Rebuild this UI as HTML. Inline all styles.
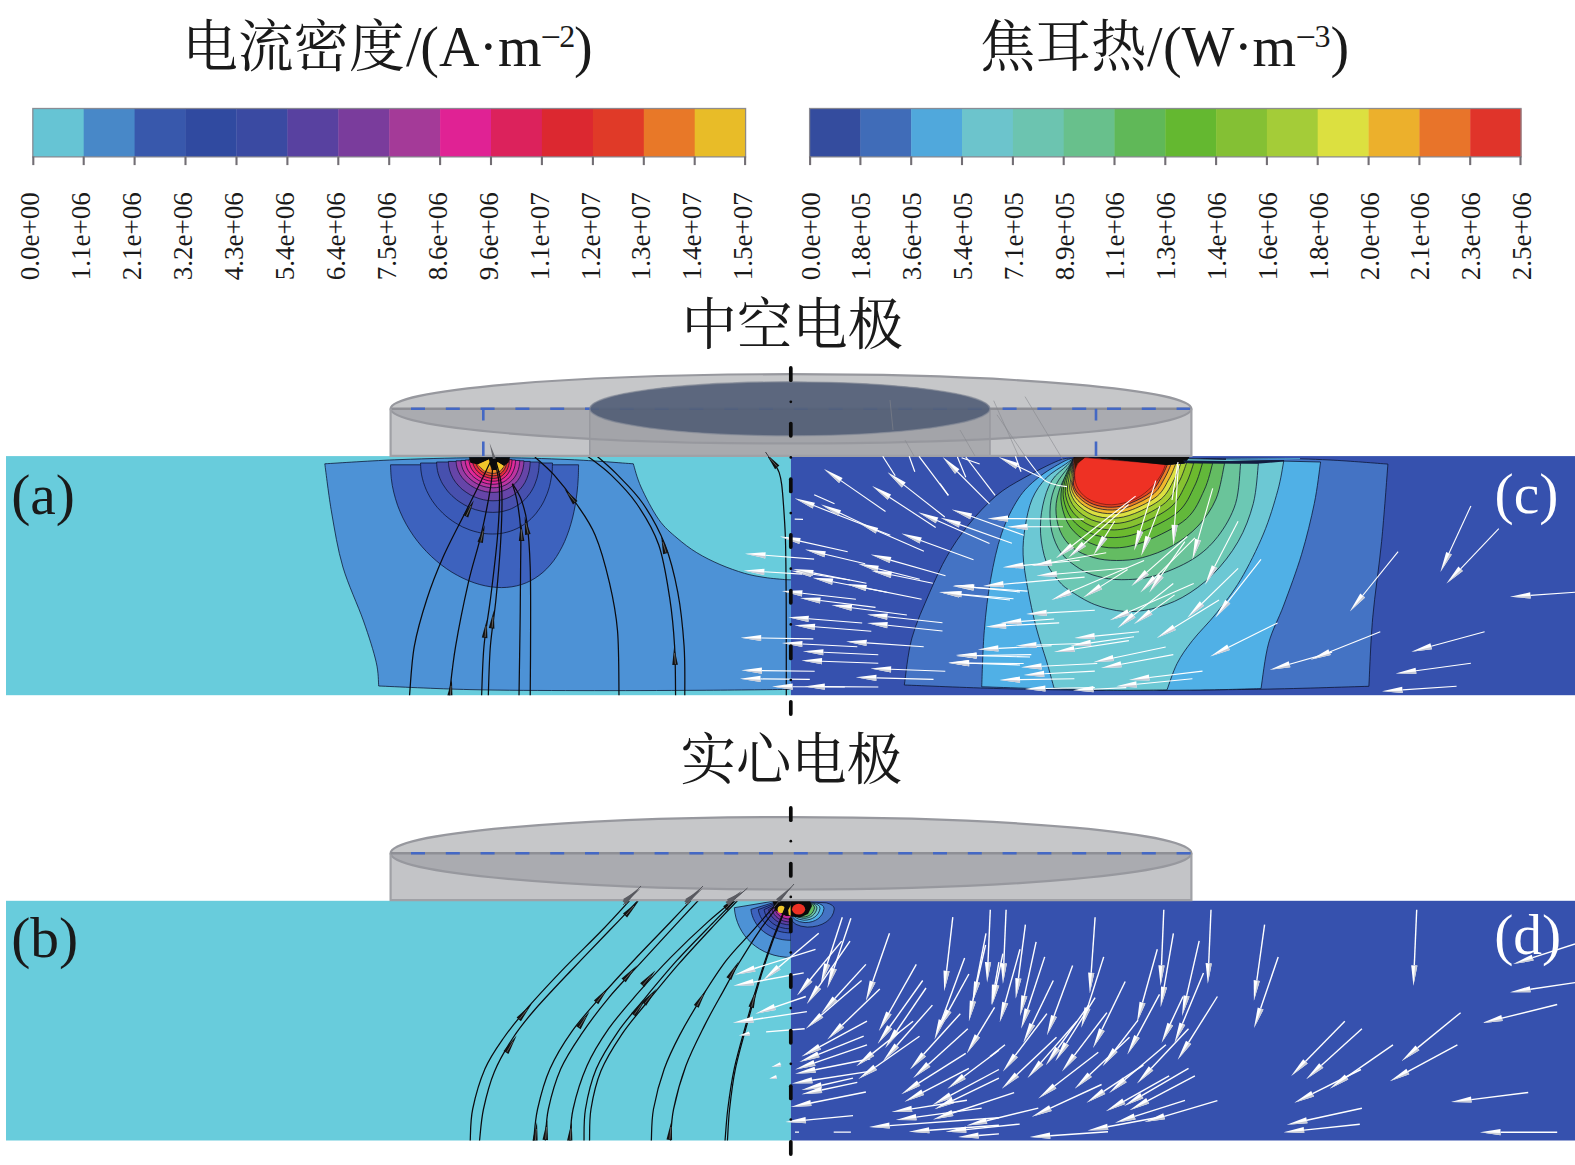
<!DOCTYPE html>
<html lang="zh"><head><meta charset="utf-8"><title>figure</title>
<style>html,body{margin:0;padding:0;background:#fff}svg{display:block}
text{font-family:"Liberation Serif","Noto Serif CJK SC",serif;fill:#1a1a1a}
.cj{font-family:"Liberation Serif","Noto Serif CJK SC",serif}
</style></head><body>
<svg width="1575" height="1165" viewBox="0 0 1575 1165">
<rect x="0" y="0" width="1575" height="1165" fill="#fff"/>
<text class="cj" x="182.3" y="66.4" font-size="55.6">电流密度</text>
<text x="406" y="65.8" font-size="56">/</text>
<text x="420.3" y="65.8" font-size="56">(</text>
<text x="438.9" y="65.8" font-size="56">A</text>
<text x="479" y="65.8" font-size="56">·</text>
<text x="498" y="65.8" font-size="56">m</text>
<text x="540.5" y="48.8" font-size="36">−</text>
<text x="559.3" y="46.8" font-size="32">2</text>
<text x="574" y="65.8" font-size="56">)</text>
<text class="cj" x="979.8" y="66.4" font-size="55.6">焦耳热</text>
<text x="1147" y="65.8" font-size="56">/</text>
<text x="1162.9" y="65.8" font-size="56">(</text>
<text x="1181.6" y="65.8" font-size="56">W</text>
<text x="1234" y="65.8" font-size="56">·</text>
<text x="1252.5" y="65.8" font-size="56">m</text>
<text x="1295.6" y="48.8" font-size="36">−</text>
<text x="1314.4" y="46.8" font-size="32">3</text>
<text x="1330.5" y="65.8" font-size="56">)</text>
<text class="cj" x="681.6" y="343.9" font-size="55.4">中空电极</text>
<text class="cj" x="680.6" y="778.5" font-size="55.4">实心电极</text>
<rect x="32.8" y="108.5" width="51.3" height="48.4" fill="#66c4d4"/>
<rect x="83.7" y="108.5" width="51.3" height="48.4" fill="#4888c8"/>
<rect x="134.6" y="108.5" width="51.3" height="48.4" fill="#3858ac"/>
<rect x="185.5" y="108.5" width="51.3" height="48.4" fill="#304aa0"/>
<rect x="236.5" y="108.5" width="51.3" height="48.4" fill="#3a4aa2"/>
<rect x="287.4" y="108.5" width="51.3" height="48.4" fill="#5841a0"/>
<rect x="338.3" y="108.5" width="51.3" height="48.4" fill="#7a3c9c"/>
<rect x="389.2" y="108.5" width="51.3" height="48.4" fill="#a43a98"/>
<rect x="440.1" y="108.5" width="51.3" height="48.4" fill="#e02294"/>
<rect x="491" y="108.5" width="51.3" height="48.4" fill="#dc225c"/>
<rect x="541.9" y="108.5" width="51.3" height="48.4" fill="#dc2830"/>
<rect x="592.9" y="108.5" width="51.3" height="48.4" fill="#e03a28"/>
<rect x="643.8" y="108.5" width="51.3" height="48.4" fill="#e87828"/>
<rect x="694.7" y="108.5" width="51.3" height="48.4" fill="#e8bc28"/>
<rect x="32.8" y="108.5" width="712.8" height="48.4" fill="none" stroke="#84848c" stroke-width="1.3" stroke-opacity="0.9"/>
<path d="M33.3,156.4 V165.1" stroke="#726e74" stroke-width="2.1"/>
<text font-size="27" transform="translate(39.4,280.3) rotate(-90)">0.0e+00</text>
<path d="M83.7,156.4 V165.1" stroke="#726e74" stroke-width="2.1"/>
<text font-size="27" transform="translate(90.3,280.3) rotate(-90)">1.1e+06</text>
<path d="M134.6,156.4 V165.1" stroke="#726e74" stroke-width="2.1"/>
<text font-size="27" transform="translate(141.2,280.3) rotate(-90)">2.1e+06</text>
<path d="M185.5,156.4 V165.1" stroke="#726e74" stroke-width="2.1"/>
<text font-size="27" transform="translate(192.1,280.3) rotate(-90)">3.2e+06</text>
<path d="M236.5,156.4 V165.1" stroke="#726e74" stroke-width="2.1"/>
<text font-size="27" transform="translate(243.1,280.3) rotate(-90)">4.3e+06</text>
<path d="M287.4,156.4 V165.1" stroke="#726e74" stroke-width="2.1"/>
<text font-size="27" transform="translate(294,280.3) rotate(-90)">5.4e+06</text>
<path d="M338.3,156.4 V165.1" stroke="#726e74" stroke-width="2.1"/>
<text font-size="27" transform="translate(344.9,280.3) rotate(-90)">6.4e+06</text>
<path d="M389.2,156.4 V165.1" stroke="#726e74" stroke-width="2.1"/>
<text font-size="27" transform="translate(395.8,280.3) rotate(-90)">7.5e+06</text>
<path d="M440.1,156.4 V165.1" stroke="#726e74" stroke-width="2.1"/>
<text font-size="27" transform="translate(446.7,280.3) rotate(-90)">8.6e+06</text>
<path d="M491,156.4 V165.1" stroke="#726e74" stroke-width="2.1"/>
<text font-size="27" transform="translate(497.6,280.3) rotate(-90)">9.6e+06</text>
<path d="M541.9,156.4 V165.1" stroke="#726e74" stroke-width="2.1"/>
<text font-size="27" transform="translate(548.5,280.3) rotate(-90)">1.1e+07</text>
<path d="M592.9,156.4 V165.1" stroke="#726e74" stroke-width="2.1"/>
<text font-size="27" transform="translate(599.5,280.3) rotate(-90)">1.2e+07</text>
<path d="M643.8,156.4 V165.1" stroke="#726e74" stroke-width="2.1"/>
<text font-size="27" transform="translate(650.4,280.3) rotate(-90)">1.3e+07</text>
<path d="M694.7,156.4 V165.1" stroke="#726e74" stroke-width="2.1"/>
<text font-size="27" transform="translate(701.3,280.3) rotate(-90)">1.4e+07</text>
<path d="M745.1,156.4 V165.1" stroke="#726e74" stroke-width="2.1"/>
<text font-size="27" transform="translate(752.2,280.3) rotate(-90)">1.5e+07</text>
<rect x="809.6" y="108.5" width="51.2" height="48.4" fill="#344c9e"/>
<rect x="860.4" y="108.5" width="51.2" height="48.4" fill="#406cb8"/>
<rect x="911.2" y="108.5" width="51.2" height="48.4" fill="#50a8dc"/>
<rect x="962" y="108.5" width="51.2" height="48.4" fill="#6cc4cc"/>
<rect x="1012.9" y="108.5" width="51.2" height="48.4" fill="#6cc4b0"/>
<rect x="1063.7" y="108.5" width="51.2" height="48.4" fill="#68c08c"/>
<rect x="1114.5" y="108.5" width="51.2" height="48.4" fill="#60b858"/>
<rect x="1165.3" y="108.5" width="51.2" height="48.4" fill="#64b830"/>
<rect x="1216.1" y="108.5" width="51.2" height="48.4" fill="#84c034"/>
<rect x="1266.9" y="108.5" width="51.2" height="48.4" fill="#a4cc38"/>
<rect x="1317.7" y="108.5" width="51.2" height="48.4" fill="#dce040"/>
<rect x="1368.6" y="108.5" width="51.2" height="48.4" fill="#ecb02c"/>
<rect x="1419.4" y="108.5" width="51.2" height="48.4" fill="#e8742a"/>
<rect x="1470.2" y="108.5" width="51.2" height="48.4" fill="#e0342a"/>
<rect x="809.6" y="108.5" width="711.4" height="48.4" fill="none" stroke="#84848c" stroke-width="1.3" stroke-opacity="0.9"/>
<path d="M810.1,156.4 V165.1" stroke="#726e74" stroke-width="2.1"/>
<text font-size="27" transform="translate(819.5,280.3) rotate(-90)">0.0e+00</text>
<path d="M860.4,156.4 V165.1" stroke="#726e74" stroke-width="2.1"/>
<text font-size="27" transform="translate(870.3,280.3) rotate(-90)">1.8e+05</text>
<path d="M911.2,156.4 V165.1" stroke="#726e74" stroke-width="2.1"/>
<text font-size="27" transform="translate(921.1,280.3) rotate(-90)">3.6e+05</text>
<path d="M962,156.4 V165.1" stroke="#726e74" stroke-width="2.1"/>
<text font-size="27" transform="translate(971.9,280.3) rotate(-90)">5.4e+05</text>
<path d="M1012.9,156.4 V165.1" stroke="#726e74" stroke-width="2.1"/>
<text font-size="27" transform="translate(1022.8,280.3) rotate(-90)">7.1e+05</text>
<path d="M1063.7,156.4 V165.1" stroke="#726e74" stroke-width="2.1"/>
<text font-size="27" transform="translate(1073.6,280.3) rotate(-90)">8.9e+05</text>
<path d="M1114.5,156.4 V165.1" stroke="#726e74" stroke-width="2.1"/>
<text font-size="27" transform="translate(1124.4,280.3) rotate(-90)">1.1e+06</text>
<path d="M1165.3,156.4 V165.1" stroke="#726e74" stroke-width="2.1"/>
<text font-size="27" transform="translate(1175.2,280.3) rotate(-90)">1.3e+06</text>
<path d="M1216.1,156.4 V165.1" stroke="#726e74" stroke-width="2.1"/>
<text font-size="27" transform="translate(1226,280.3) rotate(-90)">1.4e+06</text>
<path d="M1266.9,156.4 V165.1" stroke="#726e74" stroke-width="2.1"/>
<text font-size="27" transform="translate(1276.8,280.3) rotate(-90)">1.6e+06</text>
<path d="M1317.7,156.4 V165.1" stroke="#726e74" stroke-width="2.1"/>
<text font-size="27" transform="translate(1327.6,280.3) rotate(-90)">1.8e+06</text>
<path d="M1368.6,156.4 V165.1" stroke="#726e74" stroke-width="2.1"/>
<text font-size="27" transform="translate(1378.5,280.3) rotate(-90)">2.0e+06</text>
<path d="M1419.4,156.4 V165.1" stroke="#726e74" stroke-width="2.1"/>
<text font-size="27" transform="translate(1429.3,280.3) rotate(-90)">2.1e+06</text>
<path d="M1470.2,156.4 V165.1" stroke="#726e74" stroke-width="2.1"/>
<text font-size="27" transform="translate(1480.1,280.3) rotate(-90)">2.3e+06</text>
<path d="M1520.5,156.4 V165.1" stroke="#726e74" stroke-width="2.1"/>
<text font-size="27" transform="translate(1530.9,280.3) rotate(-90)">2.5e+06</text>
<rect x="6" y="456.1" width="784.9" height="239.1" fill="#68ccdc"/>
<rect x="790.9" y="456.1" width="784.1" height="239.1" fill="#3651ae"/>
<clipPath id="clipA"><rect x="6" y="456.1" width="784.9" height="239.1"/></clipPath>
<clipPath id="clipC"><rect x="790.9" y="456.1" width="784.1" height="239.1"/></clipPath>
<clipPath id="clipT"><rect x="6" y="456.1" width="1569" height="239.1"/></clipPath>
<g clip-path="url(#clipA)">
<path d="M324.8,463.8C337.3,463.1 372.5,460.6 400,459.6C427.5,458.6 461.7,457.6 490,457.6C518.3,457.6 546.1,458.6 570,459.6C593.9,460.6 622.8,463.1 633.3,463.8C634.6,467.7 636.8,477.7 641,487C645.2,496.3 652.7,510.9 658.7,519.4C664.7,527.9 670.6,532.5 677,538C683.4,543.5 689.6,548.3 696.8,552.7C704,557.1 712.1,561.1 720,564.5C727.9,567.9 736.9,571.1 744.4,573.3C751.9,575.5 758.1,576.4 765,577.5C771.9,578.6 782.5,579.3 786,579.7L794,579.9 L794,689.4C778.3,689.5 735.7,690.1 700,690.3C664.3,690.5 618.3,690.7 580,690.6C541.7,690.5 503.6,690.4 470,689.6C436.4,688.8 393.9,686.6 378.7,686C378.3,682 378.7,673 376.2,662.2C373.7,651.4 369.1,636.9 363.5,621C357.9,605.1 348.2,585 342.9,567C337.6,549 334.7,530.2 331.7,513C328.7,495.8 325.9,472 324.8,463.8Z" fill="#4d92d6" stroke="#0c1430" stroke-width="0.9" stroke-opacity="0.85"/>
<path d="M390.5,464.8C390.6,467.1 390.8,474 391.3,478.5C391.8,483.1 392.6,487.7 393.7,492.1C394.8,496.6 396.1,501 397.6,505.4C399.2,509.7 401,514 403,518.1C405,522.2 407.3,526.3 409.7,530.1C412.1,534 414.8,537.8 417.6,541.4C420.4,544.9 423.4,548.4 426.5,551.6C429.6,554.9 432.9,558 436.3,560.8C439.6,563.7 443.1,566.3 446.7,568.8C450.2,571.2 453.8,573.5 457.5,575.4C461.2,577.4 464.9,579.2 468.6,580.7C472.3,582.2 476,583.5 479.7,584.5C483.4,585.5 487.1,586.3 490.8,586.8C494.4,587.3 498,587.6 501.5,587.6C505,587.6 508.5,587.3 511.8,586.8C515.2,586.3 518.4,585.5 521.6,584.5C524.7,583.5 527.8,582.2 530.7,580.7C533.6,579.2 536.4,577.4 539.1,575.4C541.8,573.5 544.3,571.2 546.7,568.8C549.1,566.3 551.4,563.7 553.6,560.8C555.7,558 557.7,554.9 559.5,551.6C561.4,548.4 563.1,544.9 564.7,541.4C566.2,537.8 567.7,534 569,530.1C570.3,526.3 571.4,522.2 572.5,518.1C573.5,514 574.4,509.7 575.2,505.4C575.9,501 576.6,496.6 577.1,492.1C577.6,487.7 578,483.1 578.2,478.5C578.5,474 578.5,467.1 578.6,464.8Z" fill="#3d62be" stroke="#0c1430" stroke-width="0.9" stroke-opacity="0.85"/>
<path d="M420.5,463C420.6,464.3 420.7,468.3 421,470.9C421.3,473.6 421.8,476.2 422.5,478.8C423.1,481.4 423.9,483.9 424.9,486.4C425.8,489 426.9,491.4 428.2,493.8C429.4,496.2 430.8,498.5 432.3,500.8C433.8,503 435.5,505.2 437.2,507.3C439,509.3 440.9,511.3 442.8,513.2C444.8,515.1 446.9,516.9 449,518.5C451.2,520.2 453.4,521.7 455.7,523.1C458,524.5 460.3,525.8 462.7,527C465.1,528.1 467.6,529.1 470,530C472.5,530.9 475,531.6 477.5,532.2C480,532.8 482.5,533.3 485,533.6C487.5,533.9 490,534 492.5,534C495,534 497.4,533.9 499.8,533.6C502.2,533.3 504.6,532.8 506.9,532.2C509.2,531.6 511.5,530.9 513.6,530C515.8,529.1 518,528.1 520,527C522.1,525.8 524,524.5 525.9,523.1C527.8,521.7 529.6,520.2 531.3,518.5C533,516.9 534.6,515.1 536.2,513.2C537.7,511.3 539.1,509.3 540.4,507.3C541.8,505.2 543,503 544.1,500.8C545.2,498.5 546.2,496.2 547.1,493.8C548,491.4 548.8,489 549.5,486.4C550.1,483.9 550.7,481.4 551.1,478.8C551.6,476.2 551.9,473.6 552.2,470.9C552.4,468.3 552.4,464.3 552.5,463Z" fill="#3b5ab8" stroke="#0c1430" stroke-width="0.9" stroke-opacity="0.85"/>
<path d="M436.6,462C436.7,462.9 436.7,465.8 437,467.6C437.2,469.5 437.6,471.4 438.1,473.2C438.6,475 439.3,476.9 440,478.6C440.8,480.4 441.6,482.2 442.6,483.9C443.6,485.6 444.7,487.2 445.9,488.8C447,490.4 448.3,492 449.7,493.4C451.1,494.9 452.5,496.3 454.1,497.6C455.6,499 457.2,500.2 458.9,501.4C460.6,502.6 462.3,503.7 464.1,504.7C465.9,505.7 467.8,506.6 469.6,507.4C471.5,508.2 473.4,509 475.3,509.6C477.2,510.2 479.2,510.7 481.1,511.1C483.1,511.6 485.1,511.9 487,512.1C488.9,512.3 490.9,512.4 492.8,512.4C494.7,512.4 496.6,512.3 498.5,512.1C500.3,511.9 502.2,511.6 504,511.1C505.8,510.7 507.5,510.2 509.2,509.6C510.9,509 512.6,508.2 514.1,507.4C515.7,506.6 517.2,505.7 518.7,504.7C520.2,503.7 521.6,502.6 522.9,501.4C524.2,500.2 525.5,499 526.6,497.6C527.8,496.3 528.9,494.9 529.9,493.4C530.9,492 531.9,490.4 532.7,488.8C533.6,487.2 534.4,485.6 535,483.9C535.7,482.2 536.3,480.4 536.9,478.6C537.4,476.9 537.8,475 538.2,473.2C538.5,471.4 538.8,469.5 538.9,467.6C539.1,465.8 539.2,462.9 539.2,462Z" fill="#4750ae" stroke="#0c1430" stroke-width="0.9" stroke-opacity="0.85"/>
<path d="M448.4,461.4C448.5,462.1 448.5,464.4 448.7,465.8C448.9,467.3 449.2,468.7 449.6,470.2C450,471.6 450.5,473 451.1,474.4C451.7,475.8 452.4,477.2 453.1,478.5C453.9,479.8 454.8,481.1 455.7,482.4C456.7,483.6 457.7,484.8 458.8,486C459.8,487.1 461,488.2 462.2,489.3C463.4,490.3 464.7,491.3 466.1,492.2C467.4,493.1 468.8,494 470.2,494.8C471.6,495.5 473.1,496.3 474.6,496.9C476,497.5 477.6,498.1 479.1,498.6C480.6,499.1 482.2,499.5 483.7,499.8C485.3,500.1 486.8,500.4 488.4,500.6C489.9,500.7 491.5,500.8 493,500.8C494.5,500.8 496,500.7 497.5,500.6C499,500.4 500.5,500.1 501.9,499.8C503.3,499.5 504.7,499.1 506.1,498.6C507.5,498.1 508.8,497.5 510,496.9C511.3,496.3 512.5,495.5 513.7,494.8C514.9,494 516,493.1 517.1,492.2C518.1,491.3 519.1,490.3 520.1,489.3C521,488.2 521.9,487.1 522.7,486C523.5,484.8 524.3,483.6 525,482.4C525.7,481.1 526.3,479.8 526.8,478.5C527.4,477.2 527.9,475.8 528.3,474.4C528.7,473 529.1,471.6 529.4,470.2C529.6,468.7 529.8,467.3 530,465.8C530.1,464.4 530.2,462.1 530.2,461.4Z" fill="#6645a8" stroke="#0c1430" stroke-width="0.9" stroke-opacity="0.85"/>
<path d="M456.1,460.8C456.1,461.4 456.2,463.2 456.4,464.3C456.5,465.5 456.8,466.7 457.1,467.8C457.4,469 457.8,470.1 458.3,471.2C458.8,472.3 459.4,473.4 460,474.5C460.7,475.6 461.4,476.6 462.1,477.6C462.9,478.6 463.8,479.6 464.7,480.5C465.6,481.4 466.5,482.3 467.5,483.1C468.5,484 469.6,484.8 470.7,485.5C471.8,486.2 472.9,486.9 474.1,487.6C475.3,488.2 476.5,488.8 477.7,489.3C479,489.8 480.2,490.2 481.5,490.6C482.7,491 484,491.3 485.3,491.6C486.6,491.9 487.9,492.1 489.2,492.2C490.4,492.3 491.7,492.4 493,492.4C494.3,492.4 495.5,492.3 496.8,492.2C498,492.1 499.2,491.9 500.4,491.6C501.6,491.3 502.7,491 503.9,490.6C505,490.2 506.1,489.8 507.1,489.3C508.2,488.8 509.2,488.2 510.2,487.6C511.2,486.9 512.1,486.2 513,485.5C513.9,484.8 514.7,484 515.5,483.1C516.3,482.3 517,481.4 517.7,480.5C518.4,479.6 519,478.6 519.6,477.6C520.1,476.6 520.6,475.6 521.1,474.5C521.6,473.4 522,472.3 522.3,471.2C522.7,470.1 523,469 523.2,467.8C523.4,466.7 523.6,465.5 523.7,464.3C523.8,463.2 523.9,461.4 523.9,460.8Z" fill="#963ca4" stroke="#0c1430" stroke-width="0.9" stroke-opacity="0.85"/>
<path d="M461,460.4C461,460.9 461.1,462.5 461.2,463.5C461.4,464.5 461.6,465.5 461.9,466.5C462.2,467.5 462.5,468.5 462.9,469.4C463.4,470.4 463.9,471.4 464.4,472.3C465,473.2 465.6,474.1 466.3,475C467,475.8 467.7,476.7 468.5,477.5C469.3,478.3 470.1,479.1 471,479.8C471.8,480.5 472.8,481.2 473.7,481.8C474.7,482.5 475.7,483.1 476.7,483.6C477.7,484.1 478.8,484.6 479.8,485.1C480.9,485.5 482,485.9 483.1,486.3C484.2,486.6 485.3,486.9 486.4,487.1C487.5,487.3 488.7,487.5 489.8,487.6C490.9,487.7 492,487.8 493.1,487.8C494.2,487.8 495.3,487.7 496.4,487.6C497.4,487.5 498.5,487.3 499.5,487.1C500.5,486.9 501.5,486.6 502.5,486.3C503.5,485.9 504.4,485.5 505.3,485.1C506.2,484.6 507.1,484.1 507.9,483.6C508.8,483.1 509.6,482.5 510.3,481.8C511.1,481.2 511.8,480.5 512.5,479.8C513.2,479.1 513.8,478.3 514.4,477.5C514.9,476.7 515.5,475.8 516,475C516.5,474.1 516.9,473.2 517.3,472.3C517.7,471.4 518.1,470.4 518.4,469.4C518.7,468.5 518.9,467.5 519.1,466.5C519.3,465.5 519.4,464.5 519.5,463.5C519.6,462.5 519.7,460.9 519.7,460.4Z" fill="#be34a0" stroke="#0c1430" stroke-width="0.9" stroke-opacity="0.85"/>
<path d="M465.2,460C465.2,460.5 465.3,461.8 465.4,462.7C465.5,463.6 465.7,464.5 466,465.4C466.2,466.3 466.5,467.2 466.9,468C467.3,468.9 467.7,469.7 468.2,470.5C468.7,471.4 469.2,472.2 469.8,472.9C470.4,473.7 471.1,474.4 471.8,475.2C472.4,475.9 473.2,476.5 473.9,477.2C474.7,477.8 475.5,478.4 476.4,479C477.2,479.6 478.1,480.1 478.9,480.6C479.8,481.1 480.7,481.5 481.7,481.9C482.6,482.3 483.5,482.6 484.5,482.9C485.4,483.2 486.4,483.5 487.4,483.7C488.3,483.9 489.3,484 490.2,484.1C491.2,484.2 492.2,484.3 493.1,484.3C494,484.3 495,484.2 495.9,484.1C496.8,484 497.7,483.9 498.6,483.7C499.4,483.5 500.3,483.2 501.1,482.9C501.9,482.6 502.7,482.3 503.5,481.9C504.3,481.5 505,481.1 505.7,480.6C506.4,480.1 507.1,479.6 507.7,479C508.3,478.4 508.9,477.8 509.5,477.2C510.1,476.5 510.6,475.9 511.1,475.2C511.6,474.4 512,473.7 512.4,472.9C512.8,472.2 513.2,471.4 513.5,470.5C513.9,469.7 514.1,468.9 514.4,468C514.6,467.2 514.8,466.3 515,465.4C515.2,464.5 515.3,463.6 515.4,462.7C515.5,461.8 515.5,460.5 515.5,460Z" fill="#e02898" stroke="#0c1430" stroke-width="0.9" stroke-opacity="0.85"/>
<path d="M469,459.6C469,460 469.1,461.2 469.2,462C469.3,462.8 469.5,463.6 469.7,464.4C469.9,465.2 470.2,466 470.5,466.7C470.8,467.5 471.2,468.2 471.6,469C472.1,469.7 472.5,470.4 473.1,471.1C473.6,471.8 474.1,472.4 474.7,473.1C475.3,473.7 476,474.3 476.6,474.9C477.3,475.4 478,476 478.7,476.5C479.5,477 480.2,477.5 481,477.9C481.8,478.3 482.6,478.7 483.4,479.1C484.2,479.4 485,479.7 485.8,480C486.6,480.3 487.5,480.5 488.3,480.7C489.1,480.8 489.9,481 490.8,481.1C491.6,481.2 492.4,481.2 493.2,481.2C494,481.2 494.8,481.2 495.6,481.1C496.3,481 497.1,480.8 497.9,480.7C498.6,480.5 499.3,480.3 500,480C500.7,479.7 501.4,479.4 502,479.1C502.7,478.7 503.3,478.3 503.9,477.9C504.5,477.5 505,477 505.6,476.5C506.1,476 506.6,475.4 507.1,474.9C507.5,474.3 508,473.7 508.4,473.1C508.8,472.4 509.1,471.8 509.5,471.1C509.8,470.4 510.1,469.7 510.4,469C510.6,468.2 510.9,467.5 511.1,466.7C511.3,466 511.5,465.2 511.6,464.4C511.7,463.6 511.8,462.8 511.9,462C512,461.2 512,460 512,459.6Z" fill="#e62872" stroke="#0c1430" stroke-width="0.9" stroke-opacity="0.85"/>
<path d="M472.4,459.3C472.4,459.7 472.4,460.7 472.5,461.4C472.6,462.1 472.8,462.9 473,463.6C473.2,464.2 473.4,464.9 473.7,465.6C474,466.3 474.3,466.9 474.7,467.6C475,468.2 475.4,468.9 475.9,469.5C476.3,470.1 476.8,470.7 477.3,471.2C477.8,471.8 478.4,472.3 479,472.8C479.5,473.3 480.1,473.8 480.8,474.2C481.4,474.7 482,475.1 482.7,475.5C483.4,475.9 484.1,476.2 484.7,476.5C485.4,476.8 486.1,477.1 486.8,477.3C487.5,477.6 488.3,477.8 489,477.9C489.7,478.1 490.4,478.2 491.1,478.3C491.8,478.4 492.5,478.4 493.2,478.4C493.9,478.4 494.6,478.4 495.2,478.3C495.9,478.2 496.6,478.1 497.2,477.9C497.8,477.8 498.5,477.6 499.1,477.3C499.7,477.1 500.2,476.8 500.8,476.5C501.3,476.2 501.9,475.9 502.4,475.5C502.9,475.1 503.4,474.7 503.8,474.2C504.3,473.8 504.7,473.3 505.1,472.8C505.5,472.3 505.9,471.8 506.3,471.2C506.6,470.7 506.9,470.1 507.2,469.5C507.5,468.9 507.8,468.2 508,467.6C508.2,466.9 508.4,466.3 508.6,465.6C508.8,464.9 508.9,464.2 509.1,463.6C509.2,462.9 509.3,462.1 509.3,461.4C509.4,460.7 509.4,459.7 509.4,459.3Z" fill="#e62c3a" stroke="#0c1430" stroke-width="0.9" stroke-opacity="0.85"/>
<path d="M475.2,459C475.2,459.3 475.2,460.3 475.3,460.9C475.4,461.5 475.5,462.1 475.7,462.7C475.9,463.3 476.1,464 476.3,464.5C476.6,465.1 476.9,465.7 477.2,466.3C477.5,466.9 477.8,467.4 478.2,467.9C478.6,468.5 479,469 479.5,469.5C479.9,470 480.4,470.4 480.9,470.9C481.4,471.3 481.9,471.7 482.5,472.1C483,472.5 483.6,472.9 484.1,473.2C484.7,473.6 485.3,473.9 485.9,474.1C486.5,474.4 487.1,474.7 487.7,474.9C488.3,475.1 488.9,475.2 489.6,475.4C490.2,475.5 490.8,475.6 491.4,475.7C492,475.8 492.6,475.8 493.2,475.8C493.8,475.8 494.4,475.8 495,475.7C495.5,475.6 496.1,475.5 496.6,475.4C497.2,475.2 497.7,475.1 498.2,474.9C498.7,474.7 499.2,474.4 499.7,474.1C500.2,473.9 500.6,473.6 501.1,473.2C501.5,472.9 501.9,472.5 502.3,472.1C502.7,471.7 503.1,471.3 503.4,470.9C503.7,470.4 504.1,470 504.3,469.5C504.6,469 504.9,468.5 505.2,467.9C505.4,467.4 505.6,466.9 505.8,466.3C506,465.7 506.2,465.1 506.3,464.5C506.5,464 506.6,463.3 506.7,462.7C506.8,462.1 506.9,461.5 506.9,460.9C507,460.3 507,459.3 507,459Z" fill="#e8562a" stroke="#0c1430" stroke-width="0.9" stroke-opacity="0.85"/>
<path d="M477.2,458.8C477.2,459.1 477.2,459.9 477.3,460.4C477.4,461 477.5,461.5 477.7,462C477.8,462.6 478,463.1 478.2,463.6C478.4,464.1 478.7,464.6 479,465.1C479.2,465.6 479.6,466.1 479.9,466.6C480.3,467 480.6,467.5 481,467.9C481.4,468.3 481.9,468.7 482.3,469.1C482.7,469.5 483.2,469.9 483.7,470.2C484.2,470.6 484.7,470.9 485.2,471.2C485.7,471.5 486.2,471.7 486.7,472C487.3,472.2 487.8,472.4 488.4,472.6C488.9,472.8 489.4,472.9 490,473C490.5,473.2 491.1,473.2 491.6,473.3C492.1,473.4 492.7,473.4 493.2,473.4C493.7,473.4 494.2,473.4 494.7,473.3C495.2,473.2 495.7,473.2 496.2,473C496.7,472.9 497.2,472.8 497.6,472.6C498.1,472.4 498.5,472.2 498.9,472C499.3,471.7 499.7,471.5 500.1,471.2C500.5,470.9 500.8,470.6 501.2,470.2C501.5,469.9 501.8,469.5 502.1,469.1C502.4,468.7 502.7,468.3 502.9,467.9C503.2,467.5 503.4,467 503.6,466.6C503.8,466.1 504,465.6 504.2,465.1C504.4,464.6 504.5,464.1 504.6,463.6C504.8,463.1 504.9,462.6 504.9,462C505,461.5 505.1,461 505.1,460.4C505.2,459.9 505.2,459.1 505.2,458.8Z" fill="#ee8a26" stroke="#0c1430" stroke-width="0.9" stroke-opacity="0.85"/>
<path d="M469,457.3 L510,457.3 L508.6,462.6 L503.9,465.9 L497.5,462 L494.5,467 L490.6,467.2 L488.9,459.4 L477.8,464.6 L470.4,462.8 Z" fill="#0a0a0a"/>
<path d="M477.8,464.6 L488.9,459.4 L490.6,467.2 L485.5,471.5 Z" fill="#f0c62a"/>
<path d="M497.5,462 L503.9,465.9 L500.1,470.6 L495.8,468.9 Z" fill="#f0c62a"/>
<path d="M489,458 L497.4,458 L496.2,470 L491.6,470 Z" fill="#0a0a0a"/>
<path d="M409.5,696C410.3,687.7 411.4,662.5 414.3,646.3C417.2,630.1 422.2,613.5 427,598.7C431.8,583.9 436.6,571.8 442.9,557.5C449.2,543.2 458.6,525.7 465,513C471.4,500.3 476.6,490.2 481,481.3C485.4,472.4 489.8,463.2 491.5,459.6" fill="none" stroke="#0b0b0f" stroke-width="1.25"/>
<path d="M449.2,696C450.3,687.7 452.4,665.1 455.6,646.3C458.8,627.4 464.1,601.4 468.3,582.9C472.5,564.4 477.3,551.1 481,535.2C484.7,519.3 488.5,500.2 490.5,487.6C492.5,475 492.8,464.3 493.2,459.6" fill="none" stroke="#0b0b0f" stroke-width="1.25"/>
<path d="M481.6,696C482,687.7 482.5,662.2 484,646C485.5,629.8 488.2,617.2 490.5,598.7C492.8,580.2 496.1,553.7 497.6,535.2C499.1,516.7 499.9,500.2 499.4,487.6C498.9,475 495.2,464.3 494.4,459.6" fill="none" stroke="#0b0b0f" stroke-width="1.25"/>
<path d="M488.3,696C488.6,687.7 489.1,662.2 490.4,646C491.7,629.8 494.2,617.2 496,598.7C497.8,580.2 500.1,553.7 501,535.2C501.9,516.7 502.5,500.2 501.6,487.6C500.7,475 496.4,464.3 495.4,459.6" fill="none" stroke="#0b0b0f" stroke-width="1.25"/>
<path d="M519,696C519.2,685 519.7,651.5 520,630C520.3,608.5 520.5,583.9 520.6,567C520.7,550.1 521.2,540.1 520.6,528.9C520,517.7 518.3,507.5 516.9,500C515.5,492.5 513.1,486.7 512.3,484" fill="none" stroke="#0b0b0f" stroke-width="1.25"/>
<path d="M530.2,696C530.3,685 530.6,651.5 530.6,630C530.6,608.5 530.8,584.9 530.2,567C529.6,549.1 528.5,533.8 527,522.5C525.5,511.2 523.4,505.5 521,499C518.6,492.5 513.9,486.2 512.5,483.6" fill="none" stroke="#0b0b0f" stroke-width="1.25"/>
<path d="M619,696C618.8,685.1 619.1,649.4 617.5,630.5C615.9,611.6 613.2,598.8 609.5,582.9C605.8,567 600.8,548.4 595.2,535.2C589.7,522 583.1,513.5 576.2,503.5C569.3,493.4 560.9,482.6 554,474.9C547.1,467.1 538.1,460 534.9,457" fill="none" stroke="#0b0b0f" stroke-width="1.25"/>
<path d="M675.6,696C675.4,687.7 675.6,662.5 674.6,646.3C673.6,630.1 672.4,615.6 669.8,598.7C667.1,581.8 664.2,560.7 658.7,544.8C653.2,528.9 644.5,515.1 636.5,503.5C628.5,491.9 619.2,482.8 611,474.9C602.8,467 591.2,459.1 587.3,456" fill="none" stroke="#0b0b0f" stroke-width="1.25"/>
<path d="M684.8,696C684.7,687.7 685.3,663.6 684.1,646.3C682.9,629 681,609.3 677.8,592.4C674.6,575.5 670.8,559.6 665,544.8C659.2,530 650.8,515.1 642.9,503.5C635,491.9 625.2,482.8 617.5,474.9C609.8,467 600.2,459.1 596.8,456" fill="none" stroke="#0b0b0f" stroke-width="1.25"/>
<path d="M786.3,696C786.3,680 786.3,621.8 786.2,600C786.1,578.2 786,575.8 785.9,565C785.8,554.2 785.7,545 785.3,535C784.9,525 784.1,513.4 783.5,505C782.9,496.6 782.4,490 781.7,484.6C781,479.2 780.3,475.9 779.2,472.6C778.1,469.3 777,467.7 775,464.8C773,461.9 768.5,456.8 767.2,455.2" fill="none" stroke="#0b0b0f" stroke-width="1.25"/>
<path d="M473.9,500.3 L468.2,517.6 L463.2,515 Z" fill="#111"/><path d="M471,505.9 L466.4,515.8" stroke="#9a9a9a" stroke-width="0.7" stroke-opacity="0.8"/>
<path d="M484.8,525 L482.9,543.1 L477.5,541.7 Z" fill="#111"/><path d="M483.2,531.1 L480.8,541.7" stroke="#9a9a9a" stroke-width="0.7" stroke-opacity="0.8"/>
<path d="M451.9,679.6 L452.5,697.8 L446.9,697.1 Z" fill="#111"/><path d="M451.1,685.8 L450.2,696.7" stroke="#9a9a9a" stroke-width="0.7" stroke-opacity="0.8"/>
<path d="M486.8,620 L487.4,638.2 L481.8,637.5 Z" fill="#111"/><path d="M486,626.2 L485.1,637.1" stroke="#9a9a9a" stroke-width="0.7" stroke-opacity="0.8"/>
<path d="M493.8,610.5 L494.4,628.7 L488.8,628 Z" fill="#111"/><path d="M493,616.7 L492.1,627.6" stroke="#9a9a9a" stroke-width="0.7" stroke-opacity="0.8"/>
<path d="M521,523 L524.4,540.9 L518.8,541.1 Z" fill="#111"/><path d="M521.2,529.3 L522,540.2" stroke="#9a9a9a" stroke-width="0.7" stroke-opacity="0.8"/>
<path d="M524.7,516.8 L530.6,534.1 L525.1,535 Z" fill="#111"/><path d="M525.8,523 L528.1,533.7" stroke="#9a9a9a" stroke-width="0.7" stroke-opacity="0.8"/>
<path d="M564.4,488.4 L577.5,501.1 L573,504.5 Z" fill="#111"/><path d="M568.2,493.4 L575.1,501.9" stroke="#9a9a9a" stroke-width="0.7" stroke-opacity="0.8"/>
<path d="M661.2,536.1 L668.5,552.8 L663.1,554.2 Z" fill="#111"/><path d="M662.8,542.2 L666,552.6" stroke="#9a9a9a" stroke-width="0.7" stroke-opacity="0.8"/>
<path d="M674.1,646.9 L677.9,664.7 L672.3,665 Z" fill="#111"/><path d="M674.5,653.2 L675.4,664.1" stroke="#9a9a9a" stroke-width="0.7" stroke-opacity="0.8"/>
<path d="M765.9,453.4 L779.4,465.6 L775.1,469.2 Z" fill="#111"/><path d="M769.9,458.3 L777.1,466.5" stroke="#9a9a9a" stroke-width="0.7" stroke-opacity="0.8"/>
</g>
<g clip-path="url(#clipC)">
<path d="M1074,458C1071.5,458.4 1067.1,457.2 1058.7,460.5C1050.3,463.8 1034.3,472.1 1023.8,478C1013.3,483.9 1005.2,488.1 995.9,496C986.6,503.9 976.1,515.4 968,525.4C959.9,535.4 953.4,545 947,556.2C940.6,567.4 935.6,578.8 929.7,592.4C923.9,606 916.1,622.7 911.9,638.1C907.7,653.5 905.6,677.2 904.3,685C920.2,685.6 967.4,687.7 1000,688.6C1032.6,689.5 1058.3,690.1 1100,690.2C1141.7,690.3 1205.2,690 1250,689.4C1294.8,688.8 1349.1,686.8 1368.9,686.3C1369.5,674.9 1370.6,641.9 1372.7,617.8C1374.8,593.7 1379.1,567.2 1381.6,541.6C1384.1,516 1386.9,477 1387.9,464.1C1378.2,463.4 1349.9,461 1330,460C1310.1,459 1292.8,458.5 1268.6,458.3C1244.4,458.1 1198.8,458.6 1184.8,458.6Z" fill="#4473c4" stroke="#0c1430" stroke-width="0.9" stroke-opacity="0.85"/>
<path d="M1074,458C1072.2,458.6 1068.9,458.6 1062.9,461.9C1056.9,465.2 1045.2,471.8 1037.8,478C1030.3,484.2 1024.2,489.6 1018.2,498.9C1012.2,508.2 1006.1,520.3 1001.5,533.8C996.9,547.3 993.5,563.6 990.6,579.7C987.7,595.8 985.8,612.6 984.3,630.5C982.8,648.4 982.1,677.4 981.7,686.8C1001.4,687.4 1063.6,689.7 1100,690.2C1136.4,690.7 1173.2,690.3 1200,690C1226.8,689.7 1250.8,688.8 1261,688.6C1262.3,681 1264.8,657.1 1268.6,643.2C1272.4,629.3 1278.3,619.8 1283.8,605C1289.3,590.2 1296.5,571.2 1301.6,554.3C1306.7,537.4 1311.1,518.9 1314.3,503.5C1317.5,488.1 1319.5,468.9 1320.6,462L1184.8,458.6 Z" fill="#50b0e6" stroke="#0c1430" stroke-width="0.9" stroke-opacity="0.85"/>
<path d="M1074,458C1072.6,459 1070.3,460.7 1065.7,464C1061.1,467.3 1051.8,472.2 1046.2,478C1040.6,483.8 1035.7,490.8 1032.2,498.9C1028.7,507 1026.7,517.5 1025.2,526.8C1023.7,536.1 1022.7,544.7 1023.1,554.8C1023.5,564.9 1025.3,575.1 1027.5,587.3C1029.7,599.5 1033.1,615.6 1036.3,627.9C1039.5,640.2 1043.5,651 1046.5,661C1049.5,671 1052.8,683.7 1054.1,688.2C1063.4,688.5 1091.2,689.9 1110,690.2C1128.8,690.5 1157.5,690 1167,689.9C1168.7,685.5 1172.9,671.7 1177.1,663.5C1181.3,655.3 1185.8,649.1 1192.4,640.6C1199,632.1 1208.8,622.9 1216.8,612.7C1224.8,602.6 1232.8,592.8 1240.6,579.7C1248.4,566.6 1257.2,548.8 1263.4,534C1269.6,519.2 1274.3,503 1277.7,490.8C1281.1,478.6 1282.8,465.8 1283.8,460.8L1184.8,458.6 Z" fill="#6cc8d4" stroke="#0c1430" stroke-width="0.9" stroke-opacity="0.85"/>
<path d="M1074,458C1072.8,459.2 1070.8,461.6 1067.1,465.4C1063.4,469.2 1055.8,473.9 1051.7,480.7C1047.6,487.4 1044.6,497 1042.7,505.9C1040.8,514.8 1040,524.5 1040.6,533.8C1041.2,543.1 1043.3,554 1046.2,561.7C1049.1,569.4 1054.1,575.2 1058,580C1061.9,584.8 1063.3,586.2 1069.4,590.3C1075.5,594.4 1085.7,601.1 1094.8,604.6C1103.9,608.1 1114.3,610.7 1123.8,611.4C1133.3,612.1 1142,611.2 1151.7,608.9C1161.4,606.6 1172,603.2 1182.2,597.5C1192.4,591.8 1203.4,583.9 1212.7,574.6C1222,565.3 1231.3,553.5 1238.1,541.6C1244.9,529.8 1249.9,516.5 1253.3,503.5C1256.7,490.4 1257.6,470 1258.4,463.3L1185,462.6 L1166,464.6 L1084,457.6 Z" fill="#6cc8b4" stroke="#0c1430" stroke-width="0.9" stroke-opacity="0.85"/>
<path d="M1074,458C1073.1,459.5 1071.5,462.3 1068.5,466.8C1065.5,471.3 1058.9,478.4 1055.9,484.9C1052.9,491.4 1051,498.2 1050.3,505.9C1049.6,513.6 1049.8,523.1 1051.7,531C1053.6,538.9 1056.8,547.1 1061.5,553.4C1066.2,559.7 1073.7,564.9 1079.7,568.7C1085.8,572.5 1090.9,574.6 1097.8,576.4C1104.7,578.2 1111.9,579.8 1121.3,579.7C1130.7,579.6 1142.4,579.3 1154.3,575.9C1166.2,572.5 1181.8,566 1192.4,559.4C1203,552.8 1210.6,545.8 1217.8,536.5C1225,527.2 1231.8,515.7 1235.6,503.5C1239.4,491.3 1239.8,470 1240.6,463.3L1185,462.6 L1166,464.6 L1084,457.6 Z" fill="#6ac49a" stroke="#0c1430" stroke-width="0.9" stroke-opacity="0.85"/>
<path d="M1074,458C1073.3,459.7 1072.2,463.2 1069.9,468.2C1067.6,473.1 1062.4,480.9 1060.1,487.7C1057.8,494.4 1055.9,501.5 1055.9,508.7C1055.9,515.9 1057.3,524.5 1060.1,531C1062.9,537.5 1067.1,543.4 1072.7,547.8C1078.3,552.2 1086.4,555.5 1093.7,557.6C1101,559.7 1108.5,560.5 1116.6,560.5C1124.7,560.5 1133.3,560 1142.5,557.6C1151.7,555.2 1162.8,551.3 1172,546C1181.2,540.7 1190.7,533.8 1198,526C1205.3,518.2 1211.6,509.4 1216,499C1220.4,488.6 1223.2,469.2 1224.6,463.3L1185,462.6 L1166,464.6 L1084,457.6 Z" fill="#64bc62" stroke="#0c1430" stroke-width="0.9" stroke-opacity="0.85"/>
<path d="M1074,458C1073.3,459.4 1071.5,462 1069.6,466.4C1067.7,470.7 1063.9,478 1062.5,484.3C1061.1,490.6 1060.2,497 1061.5,504.1C1062.8,511.2 1065.5,520.5 1070.2,527C1074.9,533.5 1082.2,539.4 1089.8,542.9C1097.4,546.4 1106.4,548.2 1115.9,547.9C1125.3,547.6 1134.6,545.7 1146.4,540.9C1158.1,536 1176.6,527.4 1186.3,518.9C1195.9,510.4 1199.9,499.2 1204.3,489.9C1208.7,480.6 1211.3,467.6 1212.7,463.2L1185,462.6 L1166,464.6 L1084,457.6 Z" fill="#62b83a" stroke="#0c1430" stroke-width="0.9" stroke-opacity="0.85"/>
<path d="M1074,458C1073.4,459.2 1072.1,461.4 1070.6,465.4C1069,469.5 1065.8,476.4 1064.6,482.1C1063.4,487.7 1062.4,493.2 1063.6,499.3C1064.8,505.5 1067.4,513.4 1071.8,519C1076.3,524.6 1083.1,530.1 1090.3,533.2C1097.5,536.3 1106.2,537.9 1114.9,537.6C1123.6,537.3 1132,535.7 1142.5,531.4C1153,527.1 1169.4,519.5 1178,512C1186.7,504.5 1190.3,494.5 1194.4,486.4C1198.5,478.3 1201.2,467.1 1202.5,463.2L1185,462.6 L1166,464.6 L1084,457.6 Z" fill="#6cba2e" stroke="#0c1430" stroke-width="0.9" stroke-opacity="0.85"/>
<path d="M1074,458C1073.5,459.1 1072.5,461 1071.2,464.8C1070,468.5 1067.6,475.2 1066.7,480.4C1065.8,485.6 1064.6,490.3 1065.7,495.7C1066.8,501.2 1069.3,508 1073.5,513C1077.7,518.1 1084.2,523.1 1090.9,525.9C1097.7,528.7 1106.2,530.2 1114.3,529.9C1122.3,529.6 1129.8,528.2 1139.3,524.3C1148.8,520.5 1163.3,513.6 1171.1,506.8C1178.9,500.1 1182.3,491 1186,483.8C1189.8,476.5 1192.4,466.6 1193.7,463.2L1185,462.6 L1166,464.6 L1084,457.6 Z" fill="#86c230" stroke="#0c1430" stroke-width="0.9" stroke-opacity="0.85"/>
<path d="M1074,458C1073.6,459 1072.7,460.7 1071.8,464.2C1070.9,467.7 1069.5,474.3 1068.8,479.1C1068.1,483.8 1066.7,487.9 1067.8,492.8C1068.9,497.6 1071.2,503.6 1075.1,508.1C1079.1,512.7 1085.2,517.3 1091.7,519.9C1098.1,522.5 1106.2,523.8 1113.7,523.6C1121.2,523.4 1128,522 1136.6,518.5C1145.3,515 1158.4,508.8 1165.5,502.6C1172.6,496.5 1175.7,488.2 1179.2,481.6C1182.7,475.1 1185.3,466.3 1186.5,463.2L1185,462.6 L1166,464.6 L1084,457.6 Z" fill="#a6ce32" stroke="#0c1430" stroke-width="0.9" stroke-opacity="0.85"/>
<path d="M1074,458C1073.7,459 1072.8,460.4 1072.3,463.7C1071.8,467 1071.3,473.5 1070.9,477.9C1070.5,482.3 1068.9,485.9 1069.9,490.3C1070.9,494.6 1073.1,499.9 1076.8,503.9C1080.6,508 1086.4,512.4 1092.4,514.8C1098.5,517.2 1106.2,518.4 1113.2,518.2C1120.2,518 1126.6,516.7 1134.6,513.5C1142.6,510.3 1154.7,504.6 1161.2,499C1167.8,493.4 1170.7,485.8 1174,479.8C1177.3,473.8 1179.8,466 1181,463.2L1185,462.6 L1166,464.6 L1084,457.6 Z" fill="#dce040" stroke="#0c1430" stroke-width="0.9" stroke-opacity="0.85"/>
<path d="M1074,458C1073.8,458.9 1073,460.1 1072.7,463.3C1072.4,466.5 1072.5,472.8 1072.3,476.9C1072.1,481.1 1070.4,484.2 1071.3,488.2C1072.2,492.1 1074.3,496.7 1077.9,500.5C1081.5,504.2 1087.1,508.3 1092.9,510.5C1098.7,512.8 1106.2,513.9 1112.8,513.7C1119.4,513.5 1125.3,512.4 1132.7,509.4C1140.1,506.5 1151.3,501.2 1157.4,496C1163.5,490.8 1166.2,483.7 1169.4,478.3C1172.5,472.8 1174.9,465.7 1176,463.2L1185,462.6 L1166,464.6 L1084,457.6 Z" fill="#f0b82c" stroke="#0c1430" stroke-width="0.9" stroke-opacity="0.85"/>
<path d="M1074,458C1073.8,458.8 1073.1,459.9 1073,463C1073,466 1073.8,472.2 1073.7,476.1C1073.6,480 1071.8,482.9 1072.7,486.4C1073.6,490 1075.6,494.1 1079.1,497.6C1082.5,501 1087.8,505 1093.4,507C1098.9,509.1 1106.2,510.2 1112.5,510C1118.7,509.8 1124.1,508.8 1131.1,506C1138,503.2 1148.3,498.3 1154,493.5C1159.7,488.7 1162.3,482.1 1165.2,477C1168.1,471.9 1170.4,465.5 1171.5,463.2L1185,462.6 L1166,464.6 L1084,457.6 Z" fill="#ec7c26" stroke="#0c1430" stroke-width="0.9" stroke-opacity="0.85"/>
<path d="M1074,458C1073.9,458.8 1073.2,459.8 1073.3,462.7C1073.4,465.6 1074.5,471.8 1074.6,475.5C1074.7,479.3 1072.7,481.8 1073.6,485.1C1074.5,488.4 1076.4,492.2 1079.8,495.4C1083.1,498.6 1088.3,502.4 1093.7,504.4C1099.1,506.4 1106.2,507.4 1112.2,507.2C1118.2,507 1123.3,506 1129.8,503.4C1136.3,500.8 1146,496.2 1151.3,491.6C1156.7,487.1 1159.2,480.8 1161.9,476C1164.7,471.3 1167,465.3 1168,463.2L1185,462.6 L1166,464.6 L1084,457.6 Z" fill="#e2421e" stroke="#0c1430" stroke-width="0.9" stroke-opacity="0.85"/>
<path d="M1084.5,457.6C1083.3,458.7 1079.2,461.1 1077.6,464C1075.9,466.9 1074.5,470.9 1074.6,475.1C1074.7,479.3 1075.6,484.9 1078.3,489.1C1081,493.3 1085.3,497.7 1090.9,500.3C1096.5,502.9 1104.3,505 1111.8,504.8C1119.2,504.6 1128.8,502 1135.6,498.9C1142.3,495.8 1148,490.4 1152.3,486.3C1156.6,482.2 1159.3,477.7 1161.5,474C1163.7,470.3 1164.9,465.9 1165.6,464.3Z" fill="#ee3124" stroke="#501010" stroke-width="0.6"/>
<path d="M1073.5,457.2 L1085.5,457.2 L1077.5,463.5 L1074.8,470 Z" fill="#1a1208" opacity="0.85"/>
<path d="M1083.5,456.2 L1190,456.2 L1185.4,463 L1166,464.9 Z" fill="#0b0b0b"/>
<path d="M1183,460.6 L1232,460.9 L1284,460.1 L1284,461.6 L1260,463.6 L1185,463.0 Z" fill="#121c40"/>
<path d="M1226,459.2 L1300,458.7" stroke="#58b4e4" stroke-width="1" fill="none"/>
</g>
<rect x="390.6" y="408.8" width="800.8" height="47.6" fill="#c3c4c7"/>
<path d="M390.6,408.8 A400.4,34.6 0 0 1 1191.4,408.8 Z" fill="#c6c7c9"/>
<path d="M390.6,408.8 A400.4,34.6 0 0 0 1191.4,408.8 Z" fill="#aaabb0"/>
<rect x="589.8" y="408.8" width="400.2" height="47.6" fill="#a3a4a9"/>
<clipPath id="clipIn"><rect x="589.8" y="408.8" width="400.2" height="47.6"/></clipPath>
<g clip-path="url(#clipIn)"><path d="M390.6,408.8 A400.4,34.6 0 0 0 1191.4,408.8 V456.4 H390.6 Z" fill="#a9aaae"/>
<path d="M390.6,408.8 A400.4,34.6 0 0 0 1191.4,408.8" fill="none" stroke="#b3b4b8" stroke-width="1.3"/></g>
<path d="M589.8,408.8 V456.4 M990,408.8 V456.4" stroke="#97989e" stroke-width="1.4"/>
<path d="M390.6,408.8 H1191.4" stroke="#8e8f95" stroke-width="2.5"/>
<path d="M390.6,408.8 H1191.4" stroke="#4468c4" stroke-width="2.6" stroke-dasharray="14 20.8" stroke-dashoffset="-20.4"/>
<ellipse cx="789.9" cy="408.8" rx="200.1" ry="27" fill="#535e76" fill-opacity="0.92"/>
<path d="M589.8,408.8 A200.1,27 0 0 1 990,408.8 Z" fill="#5b6780" fill-opacity="0.5"/>
<ellipse cx="789.9" cy="408.8" rx="200.1" ry="27" fill="none" stroke="#868b98" stroke-width="1.3" stroke-opacity="0.7"/>
<ellipse cx="791" cy="408.8" rx="400.4" ry="34.6" fill="none" stroke="#97989e" stroke-width="2.2"/>
<path d="M390.6,408.8 V455.8 H1191.4 V408.8" fill="none" stroke="#a0a1a6" stroke-width="2.2"/>
<path d="M483.3,408.8 V420.6 M483.3,441.6 V456" stroke="#4468c4" stroke-width="2.6"/>
<path d="M1096,408.8 V420.6 M1096,441.6 V456" stroke="#4468c4" stroke-width="2.6"/>
<path d="M993.7,400.7 L1018.5,456 M997,414.8 L1025,456 M1025,396.6 L1063,460 M890,400 L893,430 M960,430 L975,456 M905,440 L914,456" stroke="#85868c" stroke-width="0.7" fill="none" opacity="0.8"/>
<path d="M489.6,443 L495.8,458.4 L492.9,459 Z" fill="#66676c"/>
<path d="M765.5,452 L769.6,458" stroke="#3a3a40" stroke-width="1"/>
<g clip-path="url(#clipT)">
<path d="M885.5,511.5 L840.9,480.6" stroke="#fff" stroke-width="1.12" fill="none"/><path d="M824,468.9 L842.6,478 L839.1,483.1 Z" fill="#fff"/><path d="M824,468.9 L839.1,483.1 L840.4,481.2 Z" fill="#c9ccd6"/>
<path d="M935.7,527.5 L889.4,497.2" stroke="#fff" stroke-width="1.12" fill="none"/><path d="M872.2,486 L891.1,494.6 L887.7,499.8 Z" fill="#fff"/><path d="M872.2,486 L887.7,499.8 L888.9,497.9 Z" fill="#c9ccd6"/>
<path d="M944.8,517 L903.8,484.9" stroke="#fff" stroke-width="1.12" fill="none"/><path d="M887.6,472.3 L905.7,482.5 L901.8,487.4 Z" fill="#fff"/><path d="M887.6,472.3 L901.8,487.4 L903.3,485.5 Z" fill="#c9ccd6"/>
<path d="M989.5,503.8 L957.2,471.5" stroke="#fff" stroke-width="1.12" fill="none"/><path d="M942.7,457 L959.4,469.3 L955,473.7 Z" fill="#fff"/><path d="M942.7,457 L955,473.7 L956.6,472 Z" fill="#c9ccd6"/>
<path d="M1042,478 L1017.1,465.9" stroke="#fff" stroke-width="1.12" fill="none"/><path d="M998.7,457 L1018.5,463.2 L1015.8,468.7 Z" fill="#fff"/><path d="M998.7,457 L1015.8,468.7 L1016.8,466.6 Z" fill="#c9ccd6"/>
<path d="M890.3,535.2 L813.8,505.6" stroke="#fff" stroke-width="1.12" fill="none"/><path d="M794.7,498.2 L814.9,502.7 L812.7,508.5 Z" fill="#fff"/><path d="M794.7,498.2 L812.7,508.5 L813.5,506.3 Z" fill="#c9ccd6"/>
<path d="M923.9,551.3 L877,530.8" stroke="#fff" stroke-width="1.12" fill="none"/><path d="M858.2,522.6 L878.2,528 L875.7,533.6 Z" fill="#fff"/><path d="M858.2,522.6 L875.7,533.6 L876.7,531.5 Z" fill="#c9ccd6"/>
<path d="M872.2,528.2 L839.8,513.1" stroke="#fff" stroke-width="1.12" fill="none"/><path d="M821.2,504.5 L841.1,510.3 L838.5,516 Z" fill="#fff"/><path d="M821.2,504.5 L838.5,516 L839.5,513.8 Z" fill="#c9ccd6"/>
<path d="M989.5,543.6 L937.1,520.5" stroke="#fff" stroke-width="1.12" fill="none"/><path d="M918.3,512.2 L938.3,517.6 L935.8,523.3 Z" fill="#fff"/><path d="M918.3,512.2 L935.8,523.3 L936.7,521.2 Z" fill="#c9ccd6"/>
<path d="M1011.9,543.3 L959.9,524.6" stroke="#fff" stroke-width="1.12" fill="none"/><path d="M940.6,517.7 L960.9,521.7 L958.8,527.5 Z" fill="#fff"/><path d="M940.6,517.7 L958.8,527.5 L959.6,525.4 Z" fill="#c9ccd6"/>
<path d="M1023.8,535.2 L971.1,516.3" stroke="#fff" stroke-width="1.12" fill="none"/><path d="M951.8,509.4 L972.1,513.4 L970.1,519.2 Z" fill="#fff"/><path d="M951.8,509.4 L970.1,519.2 L970.8,517 Z" fill="#c9ccd6"/>
<path d="M973.5,559.7 L920.8,540.5" stroke="#fff" stroke-width="1.12" fill="none"/><path d="M901.5,533.5 L921.8,537.6 L919.7,543.4 Z" fill="#fff"/><path d="M901.5,533.5 L919.7,543.4 L920.5,541.2 Z" fill="#c9ccd6"/>
<path d="M847.7,551.7 L800,541.1" stroke="#fff" stroke-width="1.12" fill="none"/><path d="M780,536.6 L800.7,538 L799.3,544.1 Z" fill="#fff"/><path d="M780,536.6 L799.3,544.1 L799.8,541.8 Z" fill="#c9ccd6"/>
<path d="M865.2,563.8 L825,554.2" stroke="#fff" stroke-width="1.12" fill="none"/><path d="M805.1,549.5 L825.8,551.2 L824.3,557.3 Z" fill="#fff"/><path d="M805.1,549.5 L824.3,557.3 L824.9,555 Z" fill="#c9ccd6"/>
<path d="M945.5,575.7 L890.5,560.1" stroke="#fff" stroke-width="1.12" fill="none"/><path d="M870.8,554.5 L891.4,557.1 L889.7,563.1 Z" fill="#fff"/><path d="M870.8,554.5 L889.7,563.1 L890.3,560.8 Z" fill="#c9ccd6"/>
<path d="M919.7,579.2 L878.1,568.8" stroke="#fff" stroke-width="1.12" fill="none"/><path d="M858.2,563.8 L878.8,565.8 L877.3,571.8 Z" fill="#fff"/><path d="M858.2,563.8 L877.3,571.8 L877.9,569.5 Z" fill="#c9ccd6"/>
<path d="M814.1,559.1 L765.4,555.3" stroke="#fff" stroke-width="1.12" fill="none"/><path d="M745,553.7 L765.7,552.2 L765.2,558.4 Z" fill="#fff"/><path d="M745,553.7 L765.2,558.4 L765.4,556.1 Z" fill="#c9ccd6"/>
<path d="M849.8,580 L811.5,574" stroke="#fff" stroke-width="1.12" fill="none"/><path d="M791.2,570.8 L811.9,570.9 L811,577 Z" fill="#fff"/><path d="M791.2,570.8 L811,577 L811.3,574.7 Z" fill="#c9ccd6"/>
<path d="M866.4,583.3 L813.1,572.9" stroke="#fff" stroke-width="1.12" fill="none"/><path d="M793,569 L813.7,569.9 L812.5,576 Z" fill="#fff"/><path d="M793,569 L812.5,576 L813,573.7 Z" fill="#c9ccd6"/>
<path d="M886.7,592.3 L832.7,581.7" stroke="#fff" stroke-width="1.12" fill="none"/><path d="M812.6,577.7 L833.3,578.6 L832.1,584.7 Z" fill="#fff"/><path d="M812.6,577.7 L832.1,584.7 L832.6,582.4 Z" fill="#c9ccd6"/>
<path d="M921.6,599.3 L866.3,588.1" stroke="#fff" stroke-width="1.12" fill="none"/><path d="M846.2,584 L866.9,585 L865.7,591.1 Z" fill="#fff"/><path d="M846.2,584 L865.7,591.1 L866.1,588.8 Z" fill="#c9ccd6"/>
<path d="M932.8,583.3 L891.4,574.8" stroke="#fff" stroke-width="1.12" fill="none"/><path d="M871.3,570.7 L892,571.8 L890.8,577.9 Z" fill="#fff"/><path d="M871.3,570.7 L890.8,577.9 L891.2,575.6 Z" fill="#c9ccd6"/>
<path d="M855.9,599.3 L802.3,593.3" stroke="#fff" stroke-width="1.12" fill="none"/><path d="M781.9,591 L802.6,590.2 L801.9,596.4 Z" fill="#fff"/><path d="M781.9,591 L801.9,596.4 L802.2,594.1 Z" fill="#c9ccd6"/>
<path d="M875.5,607.4 L820.3,600.5" stroke="#fff" stroke-width="1.12" fill="none"/><path d="M800,598 L820.7,597.5 L820,603.6 Z" fill="#fff"/><path d="M800,598 L820,603.6 L820.2,601.3 Z" fill="#c9ccd6"/>
<path d="M906.9,615 L851.8,607.7" stroke="#fff" stroke-width="1.12" fill="none"/><path d="M831.5,605 L852.2,604.6 L851.4,610.8 Z" fill="#fff"/><path d="M831.5,605 L851.4,610.8 L851.7,608.5 Z" fill="#c9ccd6"/>
<path d="M942.5,622.8 L887.5,616.7" stroke="#fff" stroke-width="1.12" fill="none"/><path d="M867.1,614.4 L887.8,613.6 L887.1,619.8 Z" fill="#fff"/><path d="M867.1,614.4 L887.1,619.8 L887.4,617.4 Z" fill="#c9ccd6"/>
<path d="M862.2,623 L808.6,618.8" stroke="#fff" stroke-width="1.12" fill="none"/><path d="M788.2,617.2 L808.9,615.7 L808.4,621.9 Z" fill="#fff"/><path d="M788.2,617.2 L808.4,621.9 L808.6,619.6 Z" fill="#c9ccd6"/>
<path d="M871.3,631.2 L814.9,626.8" stroke="#fff" stroke-width="1.12" fill="none"/><path d="M794.5,625.2 L815.2,623.7 L814.7,629.9 Z" fill="#fff"/><path d="M794.5,625.2 L814.7,629.9 L814.9,627.6 Z" fill="#c9ccd6"/>
<path d="M942.5,631 L887.5,625.2" stroke="#fff" stroke-width="1.12" fill="none"/><path d="M867.1,623 L887.8,622.1 L887.2,628.2 Z" fill="#fff"/><path d="M867.1,623 L887.2,628.2 L887.4,625.9 Z" fill="#c9ccd6"/>
<path d="M813.3,638.9 L761.2,638" stroke="#fff" stroke-width="1.12" fill="none"/><path d="M740.7,637.7 L761.2,634.9 L761.1,641.1 Z" fill="#fff"/><path d="M740.7,637.7 L761.1,641.1 L761.2,638.8 Z" fill="#c9ccd6"/>
<path d="M857.3,646.8 L802.4,644" stroke="#fff" stroke-width="1.12" fill="none"/><path d="M781.9,642.9 L802.5,640.9 L802.2,647.1 Z" fill="#fff"/><path d="M781.9,642.9 L802.2,647.1 L802.3,644.7 Z" fill="#c9ccd6"/>
<path d="M923.7,646.8 L866.7,642.9" stroke="#fff" stroke-width="1.12" fill="none"/><path d="M846.2,641.5 L866.9,639.8 L866.4,646 Z" fill="#fff"/><path d="M846.2,641.5 L866.4,646 L866.6,643.7 Z" fill="#c9ccd6"/>
<path d="M878.3,654.8 L823.4,652.3" stroke="#fff" stroke-width="1.12" fill="none"/><path d="M802.9,651.3 L823.5,649.2 L823.2,655.3 Z" fill="#fff"/><path d="M802.9,651.3 L823.2,655.3 L823.3,653 Z" fill="#c9ccd6"/>
<path d="M878.3,663.3 L822,661.2" stroke="#fff" stroke-width="1.12" fill="none"/><path d="M801.5,660.5 L822.1,658.1 L821.9,664.3 Z" fill="#fff"/><path d="M801.5,660.5 L821.9,664.3 L822,662 Z" fill="#c9ccd6"/>
<path d="M814.7,671.3 L761.9,670.6" stroke="#fff" stroke-width="1.12" fill="none"/><path d="M741.4,670.3 L761.9,667.5 L761.9,673.7 Z" fill="#fff"/><path d="M741.4,670.3 L761.9,673.7 L761.9,671.4 Z" fill="#c9ccd6"/>
<path d="M945.3,671.3 L891.1,669.3" stroke="#fff" stroke-width="1.12" fill="none"/><path d="M870.6,668.5 L891.2,666.2 L891,672.4 Z" fill="#fff"/><path d="M870.6,668.5 L891,672.4 L891.1,670 Z" fill="#c9ccd6"/>
<path d="M809.8,679.4 L760.5,678.9" stroke="#fff" stroke-width="1.12" fill="none"/><path d="M740,678.7 L760.5,675.8 L760.5,682 Z" fill="#fff"/><path d="M740,678.7 L760.5,682 L760.5,679.7 Z" fill="#c9ccd6"/>
<path d="M933.5,679.4 L876.4,677.9" stroke="#fff" stroke-width="1.12" fill="none"/><path d="M855.9,677.3 L876.5,674.8 L876.3,681 Z" fill="#fff"/><path d="M855.9,677.3 L876.3,681 L876.4,678.6 Z" fill="#c9ccd6"/>
<path d="M844.8,687 L792.6,686.7" stroke="#fff" stroke-width="1.12" fill="none"/><path d="M772.1,686.6 L792.6,683.6 L792.6,689.8 Z" fill="#fff"/><path d="M772.1,686.6 L792.6,689.8 L792.6,687.5 Z" fill="#c9ccd6"/>
<path d="M878.3,687 L824.8,686.6" stroke="#fff" stroke-width="1.12" fill="none"/><path d="M804.3,686.4 L824.8,683.5 L824.8,689.7 Z" fill="#fff"/><path d="M804.3,686.4 L824.8,689.7 L824.8,687.3 Z" fill="#c9ccd6"/>
<path d="M802,574.1 L764.3,571.8" stroke="#fff" stroke-width="1.12" fill="none"/><path d="M743.8,570.5 L764.5,568.7 L764.1,574.9 Z" fill="#fff"/><path d="M743.8,570.5 L764.1,574.9 L764.2,572.5 Z" fill="#c9ccd6"/>
<path d="M1083.9,519.1 L1008,518.6" stroke="#fff" stroke-width="1.12" fill="none"/><path d="M987.5,518.5 L1008,515.5 L1008,521.7 Z" fill="#fff"/><path d="M987.5,518.5 L1008,521.7 L1008,519.4 Z" fill="#c9ccd6"/>
<path d="M1062.9,526.8 L1027.5,526.8" stroke="#fff" stroke-width="1.12" fill="none"/><path d="M1007,526.8 L1027.5,523.7 L1027.5,529.9 Z" fill="#fff"/><path d="M1007,526.8 L1027.5,529.9 L1027.5,527.6 Z" fill="#c9ccd6"/>
<path d="M1106.2,552.7 L1051.7,562.3" stroke="#fff" stroke-width="1.12" fill="none"/><path d="M1031.5,565.9 L1051.1,559.3 L1052.2,565.4 Z" fill="#fff"/><path d="M1031.5,565.9 L1052.2,565.4 L1051.8,563.1 Z" fill="#c9ccd6"/>
<path d="M1079.7,560.3 L1023.3,565.4" stroke="#fff" stroke-width="1.12" fill="none"/><path d="M1002.9,567.3 L1023,562.4 L1023.6,568.5 Z" fill="#fff"/><path d="M1002.9,567.3 L1023.6,568.5 L1023.4,566.2 Z" fill="#c9ccd6"/>
<path d="M1127.2,568 L1056.8,574" stroke="#fff" stroke-width="1.12" fill="none"/><path d="M1036.4,575.7 L1056.6,570.9 L1057.1,577.1 Z" fill="#fff"/><path d="M1036.4,575.7 L1057.1,577.1 L1056.9,574.7 Z" fill="#c9ccd6"/>
<path d="M1135.6,496.1 L1072.1,545.7" stroke="#fff" stroke-width="1.12" fill="none"/><path d="M1055.9,558.3 L1070.2,543.2 L1074,548.1 Z" fill="#fff"/><path d="M1055.9,558.3 L1074,548.1 L1072.5,546.3 Z" fill="#c9ccd6"/>
<path d="M1128.6,504.5 L1083.9,544" stroke="#fff" stroke-width="1.12" fill="none"/><path d="M1068.5,557.6 L1081.8,541.7 L1085.9,546.3 Z" fill="#fff"/><path d="M1068.5,557.6 L1085.9,546.3 L1084.4,544.6 Z" fill="#c9ccd6"/>
<path d="M1114.6,521.2 L1104.5,537.4" stroke="#fff" stroke-width="1.12" fill="none"/><path d="M1093.7,554.8 L1101.9,535.8 L1107.2,539 Z" fill="#fff"/><path d="M1093.7,554.8 L1107.2,539 L1105.2,537.8 Z" fill="#c9ccd6"/>
<path d="M1155.8,480.7 L1140.3,531" stroke="#fff" stroke-width="1.12" fill="none"/><path d="M1134.2,550.6 L1137.3,530.1 L1143.2,531.9 Z" fill="#fff"/><path d="M1134.2,550.6 L1143.2,531.9 L1141,531.2 Z" fill="#c9ccd6"/>
<path d="M1160,505.9 L1148.3,536.9" stroke="#fff" stroke-width="1.12" fill="none"/><path d="M1141.1,556.1 L1145.4,535.8 L1151.2,538 Z" fill="#fff"/><path d="M1141.1,556.1 L1151.2,538 L1149,537.2 Z" fill="#c9ccd6"/>
<path d="M1013.5,598.7 L961.5,594.2" stroke="#fff" stroke-width="1.12" fill="none"/><path d="M941.1,592.4 L961.8,591.1 L961.3,597.3 Z" fill="#fff"/><path d="M941.1,592.4 L961.3,597.3 L961.5,594.9 Z" fill="#c9ccd6"/>
<path d="M1027.5,591.1 L973,587.4" stroke="#fff" stroke-width="1.12" fill="none"/><path d="M952.5,586 L973.2,584.3 L972.7,590.5 Z" fill="#fff"/><path d="M952.5,586 L972.7,590.5 L972.9,588.2 Z" fill="#c9ccd6"/>
<path d="M1084.6,577.1 L1003.4,584.2" stroke="#fff" stroke-width="1.12" fill="none"/><path d="M983,586 L1003.2,581.1 L1003.7,587.3 Z" fill="#fff"/><path d="M983,586 L1003.7,587.3 L1003.5,585 Z" fill="#c9ccd6"/>
<path d="M1059.2,622.9 L1006.1,625.6" stroke="#fff" stroke-width="1.12" fill="none"/><path d="M985.6,626.7 L1005.9,622.5 L1006.2,628.7 Z" fill="#fff"/><path d="M985.6,626.7 L1006.2,628.7 L1006.1,626.4 Z" fill="#c9ccd6"/>
<path d="M1094.8,610.2 L1046.7,612.9" stroke="#fff" stroke-width="1.12" fill="none"/><path d="M1026.2,614 L1046.5,609.8 L1046.8,616 Z" fill="#fff"/><path d="M1026.2,614 L1046.8,616 L1046.7,613.6 Z" fill="#c9ccd6"/>
<path d="M1054.1,619 L1021.2,621.4" stroke="#fff" stroke-width="1.12" fill="none"/><path d="M1000.8,622.9 L1021,618.3 L1021.5,624.5 Z" fill="#fff"/><path d="M1000.8,622.9 L1021.5,624.5 L1021.3,622.2 Z" fill="#c9ccd6"/>
<path d="M1051.6,645.7 L998.4,648.4" stroke="#fff" stroke-width="1.12" fill="none"/><path d="M977.9,649.5 L998.2,645.3 L998.5,651.5 Z" fill="#fff"/><path d="M977.9,649.5 L998.5,651.5 L998.4,649.2 Z" fill="#c9ccd6"/>
<path d="M1031.3,654.6 L976.8,655.5" stroke="#fff" stroke-width="1.12" fill="none"/><path d="M956.3,655.9 L976.7,652.4 L976.9,658.6 Z" fill="#fff"/><path d="M956.3,655.9 L976.9,658.6 L976.8,656.3 Z" fill="#c9ccd6"/>
<path d="M1023.7,663.5 L969.2,663.1" stroke="#fff" stroke-width="1.12" fill="none"/><path d="M948.7,663 L969.2,660 L969.2,666.2 Z" fill="#fff"/><path d="M948.7,663 L969.2,666.2 L969.2,663.9 Z" fill="#c9ccd6"/>
<path d="M1089.7,643.2 L1036.5,645" stroke="#fff" stroke-width="1.12" fill="none"/><path d="M1016,645.7 L1036.4,641.9 L1036.6,648.1 Z" fill="#fff"/><path d="M1016,645.7 L1036.6,648.1 L1036.5,645.8 Z" fill="#c9ccd6"/>
<path d="M1097.3,663.5 L1041.6,666.3" stroke="#fff" stroke-width="1.12" fill="none"/><path d="M1021.1,667.3 L1041.4,663.2 L1041.7,669.4 Z" fill="#fff"/><path d="M1021.1,667.3 L1041.7,669.4 L1041.6,667.1 Z" fill="#c9ccd6"/>
<path d="M1094.8,671.1 L1044.2,673.8" stroke="#fff" stroke-width="1.12" fill="none"/><path d="M1023.7,674.9 L1044,670.7 L1044.3,676.9 Z" fill="#fff"/><path d="M1023.7,674.9 L1044.3,676.9 L1044.2,674.6 Z" fill="#c9ccd6"/>
<path d="M1074.4,678.7 L1020,679.6" stroke="#fff" stroke-width="1.12" fill="none"/><path d="M999.5,680 L1019.9,676.5 L1020.1,682.7 Z" fill="#fff"/><path d="M999.5,680 L1020.1,682.7 L1020,680.4 Z" fill="#c9ccd6"/>
<path d="M1094.8,687.6 L1045.4,688.5" stroke="#fff" stroke-width="1.12" fill="none"/><path d="M1024.9,688.9 L1045.3,685.4 L1045.5,691.6 Z" fill="#fff"/><path d="M1024.9,688.9 L1045.5,691.6 L1045.4,689.3 Z" fill="#c9ccd6"/>
<path d="M1178.4,465.4 L1174.6,524.9" stroke="#fff" stroke-width="1.12" fill="none"/><path d="M1173.3,545.4 L1171.5,524.7 L1177.7,525.1 Z" fill="#fff"/><path d="M1173.3,545.4 L1177.7,525.1 L1175.4,525 Z" fill="#c9ccd6"/>
<path d="M1212.7,488.3 L1198,539.7" stroke="#fff" stroke-width="1.12" fill="none"/><path d="M1192.4,559.4 L1195,538.8 L1201,540.5 Z" fill="#fff"/><path d="M1192.4,559.4 L1201,540.5 L1198.8,539.9 Z" fill="#c9ccd6"/>
<path d="M1238.1,521.3 L1214.6,566.6" stroke="#fff" stroke-width="1.12" fill="none"/><path d="M1205.1,584.8 L1211.8,565.2 L1217.3,568 Z" fill="#fff"/><path d="M1205.1,584.8 L1217.3,568 L1215.2,567 Z" fill="#c9ccd6"/>
<path d="M1187.3,536.5 L1146.7,572.4" stroke="#fff" stroke-width="1.12" fill="none"/><path d="M1131.4,586 L1144.7,570.1 L1148.8,574.7 Z" fill="#fff"/><path d="M1131.4,586 L1148.8,574.7 L1147.3,573 Z" fill="#c9ccd6"/>
<path d="M1194.9,537.8 L1154.8,577.9" stroke="#fff" stroke-width="1.12" fill="none"/><path d="M1140.3,592.4 L1152.6,575.7 L1157,580.1 Z" fill="#fff"/><path d="M1140.3,592.4 L1157,580.1 L1155.3,578.5 Z" fill="#c9ccd6"/>
<path d="M1184.8,541.6 L1161,575.6" stroke="#fff" stroke-width="1.12" fill="none"/><path d="M1149.2,592.4 L1158.4,573.8 L1163.5,577.4 Z" fill="#fff"/><path d="M1149.2,592.4 L1163.5,577.4 L1161.6,576.1 Z" fill="#c9ccd6"/>
<path d="M1144.1,560.6 L1070.3,592" stroke="#fff" stroke-width="1.12" fill="none"/><path d="M1051.4,600 L1069.1,589.1 L1071.5,594.8 Z" fill="#fff"/><path d="M1051.4,600 L1071.5,594.8 L1070.6,592.7 Z" fill="#c9ccd6"/>
<path d="M1127.6,569.5 L1100.5,586.6" stroke="#fff" stroke-width="1.12" fill="none"/><path d="M1083.2,597.5 L1098.9,583.9 L1102.2,589.2 Z" fill="#fff"/><path d="M1083.2,597.5 L1102.2,589.2 L1101,587.2 Z" fill="#c9ccd6"/>
<path d="M1238.1,568.3 L1202,603.5" stroke="#fff" stroke-width="1.12" fill="none"/><path d="M1187.3,617.8 L1199.8,601.3 L1204.1,605.7 Z" fill="#fff"/><path d="M1187.3,617.8 L1204.1,605.7 L1202.5,604 Z" fill="#c9ccd6"/>
<path d="M1261,559.4 L1227.9,601.7" stroke="#fff" stroke-width="1.12" fill="none"/><path d="M1215.2,617.8 L1225.4,599.8 L1230.3,603.6 Z" fill="#fff"/><path d="M1215.2,617.8 L1230.3,603.6 L1228.5,602.1 Z" fill="#c9ccd6"/>
<path d="M1219,600 L1174.3,627.4" stroke="#fff" stroke-width="1.12" fill="none"/><path d="M1156.8,638.1 L1172.7,624.7 L1175.9,630 Z" fill="#fff"/><path d="M1156.8,638.1 L1175.9,630 L1174.7,628.1 Z" fill="#c9ccd6"/>
<path d="M1193.7,583.5 L1128.6,612.1" stroke="#fff" stroke-width="1.12" fill="none"/><path d="M1109.8,620.3 L1127.3,609.2 L1129.8,614.9 Z" fill="#fff"/><path d="M1109.8,620.3 L1129.8,614.9 L1128.9,612.8 Z" fill="#c9ccd6"/>
<path d="M1173.3,583.5 L1133.5,615.1" stroke="#fff" stroke-width="1.12" fill="none"/><path d="M1117.5,627.9 L1131.6,612.7 L1135.5,617.6 Z" fill="#fff"/><path d="M1117.5,627.9 L1135.5,617.6 L1134,615.7 Z" fill="#c9ccd6"/>
<path d="M1174.6,594.9 L1150.6,612.1" stroke="#fff" stroke-width="1.12" fill="none"/><path d="M1134,624.1 L1148.8,609.6 L1152.5,614.6 Z" fill="#fff"/><path d="M1134,624.1 L1152.5,614.6 L1151.1,612.8 Z" fill="#c9ccd6"/>
<path d="M1139,631.7 L1094.7,636.1" stroke="#fff" stroke-width="1.12" fill="none"/><path d="M1074.3,638.1 L1094.4,633 L1095,639.2 Z" fill="#fff"/><path d="M1074.3,638.1 L1095,639.2 L1094.8,636.9 Z" fill="#c9ccd6"/>
<path d="M1134,636.8 L1090.8,642.9" stroke="#fff" stroke-width="1.12" fill="none"/><path d="M1070.5,645.7 L1090.4,639.8 L1091.2,645.9 Z" fill="#fff"/><path d="M1070.5,645.7 L1091.2,645.9 L1090.9,643.6 Z" fill="#c9ccd6"/>
<path d="M1128.9,640.6 L1074.3,649" stroke="#fff" stroke-width="1.12" fill="none"/><path d="M1054,652.1 L1073.8,645.9 L1074.7,652.1 Z" fill="#fff"/><path d="M1054,652.1 L1074.7,652.1 L1074.4,649.8 Z" fill="#c9ccd6"/>
<path d="M1165.7,647 L1113.4,658" stroke="#fff" stroke-width="1.12" fill="none"/><path d="M1093.3,662.2 L1112.7,655 L1114,661 Z" fill="#fff"/><path d="M1093.3,662.2 L1114,661 L1113.5,658.7 Z" fill="#c9ccd6"/>
<path d="M1173.3,654.6 L1121.2,664.3" stroke="#fff" stroke-width="1.12" fill="none"/><path d="M1101,668 L1120.6,661.2 L1121.7,667.3 Z" fill="#fff"/><path d="M1101,668 L1121.7,667.3 L1121.3,665 Z" fill="#c9ccd6"/>
<path d="M1202.5,671.1 L1149.3,677.5" stroke="#fff" stroke-width="1.12" fill="none"/><path d="M1128.9,680 L1148.9,674.5 L1149.6,680.6 Z" fill="#fff"/><path d="M1128.9,680 L1149.6,680.6 L1149.3,678.3 Z" fill="#c9ccd6"/>
<path d="M1192.4,678.7 L1136.6,684.3" stroke="#fff" stroke-width="1.12" fill="none"/><path d="M1116.2,686.3 L1136.3,681.2 L1136.9,687.4 Z" fill="#fff"/><path d="M1116.2,686.3 L1136.9,687.4 L1136.7,685 Z" fill="#c9ccd6"/>
<path d="M1126.3,687.6 L1093.5,689.2" stroke="#fff" stroke-width="1.12" fill="none"/><path d="M1073,690.2 L1093.3,686.1 L1093.6,692.3 Z" fill="#fff"/><path d="M1073,690.2 L1093.6,692.3 L1093.5,690 Z" fill="#c9ccd6"/>
<path d="M1398.1,551.7 L1362.7,595.5" stroke="#fff" stroke-width="1.12" fill="none"/><path d="M1349.8,611.4 L1360.3,593.5 L1365.1,597.4 Z" fill="#fff"/><path d="M1349.8,611.4 L1365.1,597.4 L1363.3,596 Z" fill="#c9ccd6"/>
<path d="M1277.5,622.9 L1228.6,647.3" stroke="#fff" stroke-width="1.12" fill="none"/><path d="M1210.2,656.4 L1227.2,644.5 L1229.9,650 Z" fill="#fff"/><path d="M1210.2,656.4 L1229.9,650 L1228.9,648 Z" fill="#c9ccd6"/>
<path d="M1380.3,631.7 L1329.5,652.1" stroke="#fff" stroke-width="1.12" fill="none"/><path d="M1310.5,659.7 L1328.4,649.2 L1330.7,654.9 Z" fill="#fff"/><path d="M1310.5,659.7 L1330.7,654.9 L1329.8,652.8 Z" fill="#c9ccd6"/>
<path d="M1332.1,652.1 L1289.5,664.2" stroke="#fff" stroke-width="1.12" fill="none"/><path d="M1269.8,669.8 L1288.7,661.2 L1290.4,667.2 Z" fill="#fff"/><path d="M1269.8,669.8 L1290.4,667.2 L1289.7,664.9 Z" fill="#c9ccd6"/>
<path d="M1470.9,505.9 L1449,553.3" stroke="#fff" stroke-width="1.12" fill="none"/><path d="M1440.4,571.9 L1446.2,552 L1451.8,554.6 Z" fill="#fff"/><path d="M1440.4,571.9 L1451.8,554.6 L1449.7,553.6 Z" fill="#c9ccd6"/>
<path d="M1498.8,528.7 L1460.6,568.8" stroke="#fff" stroke-width="1.12" fill="none"/><path d="M1446.5,583.6 L1458.4,566.6 L1462.9,570.9 Z" fill="#fff"/><path d="M1446.5,583.6 L1462.9,570.9 L1461.2,569.3 Z" fill="#c9ccd6"/>
<path d="M1575,592.2 L1530.4,595.4" stroke="#fff" stroke-width="1.12" fill="none"/><path d="M1510,596.8 L1530.2,592.3 L1530.7,598.4 Z" fill="#fff"/><path d="M1510,596.8 L1530.7,598.4 L1530.5,596.1 Z" fill="#c9ccd6"/>
<path d="M1484.6,631.8 L1431.2,646.3" stroke="#fff" stroke-width="1.12" fill="none"/><path d="M1411.4,651.7 L1430.4,643.3 L1432,649.3 Z" fill="#fff"/><path d="M1411.4,651.7 L1432,649.3 L1431.4,647.1 Z" fill="#c9ccd6"/>
<path d="M1470.9,663.3 L1416,670.7" stroke="#fff" stroke-width="1.12" fill="none"/><path d="M1395.7,673.5 L1415.6,667.7 L1416.4,673.8 Z" fill="#fff"/><path d="M1395.7,673.5 L1416.4,673.8 L1416.1,671.5 Z" fill="#c9ccd6"/>
<path d="M1456.6,686.2 L1402.5,689.9" stroke="#fff" stroke-width="1.12" fill="none"/><path d="M1382,691.3 L1402.2,686.8 L1402.7,693 Z" fill="#fff"/><path d="M1382,691.3 L1402.7,693 L1402.5,690.7 Z" fill="#c9ccd6"/>
<path d="M1010,600 L959.4,594.4" stroke="#fff" stroke-width="1.12" fill="none"/><path d="M939,592.1 L959.7,591.3 L959,597.4 Z" fill="#fff"/><path d="M939,592.1 L959,597.4 L959.3,595.1 Z" fill="#c9ccd6"/>
<path d="M1020,665 L968.6,663.2" stroke="#fff" stroke-width="1.12" fill="none"/><path d="M948.1,662.5 L968.7,660.1 L968.5,666.3 Z" fill="#fff"/><path d="M948.1,662.5 L968.5,666.3 L968.6,664 Z" fill="#c9ccd6"/>
<path d="M1030,657 L976.3,655.6" stroke="#fff" stroke-width="1.12" fill="none"/><path d="M955.8,655 L976.4,652.5 L976.2,658.7 Z" fill="#fff"/><path d="M955.8,655 L976.2,658.7 L976.3,656.3 Z" fill="#c9ccd6"/>
<path d="M1020,592 L974.1,587.4" stroke="#fff" stroke-width="1.12" fill="none"/><path d="M953.7,585.4 L974.4,584.3 L973.8,590.5 Z" fill="#fff"/><path d="M953.7,585.4 L973.8,590.5 L974,588.2 Z" fill="#c9ccd6"/>
<path d="M948.3,495.4 L919,456.3" stroke="#fff" stroke-width="1.2" fill="none"/>
<path d="M914.8,471.7 L909.2,456.3" stroke="#fff" stroke-width="1.2" fill="none"/>
<path d="M895.2,475.8 L882.7,456.3" stroke="#fff" stroke-width="1.2" fill="none"/>
<path d="M995.1,495.4 L965.8,457" stroke="#fff" stroke-width="1.2" fill="none"/>
<path d="M965.8,477.2 L957.4,457" stroke="#fff" stroke-width="1.2" fill="none"/>
<path d="M979.7,464 L961.6,457.7" stroke="#fff" stroke-width="1.2" fill="none"/>
<path d="M1021,471.7 L1015.4,456.3" stroke="#fff" stroke-width="1.2" fill="none"/>
<path d="M814.2,494.7 L834.5,503.8" stroke="#fff" stroke-width="1.2" fill="none"/>
<path d="M794.7,519.1 L803,519.4" stroke="#fff" stroke-width="1.2" fill="none"/>
<path d="M948.4,495.4 L940,483.5" stroke="#fff" stroke-width="1.2" fill="none"/>
<path d="M1178,462 L1172,500" stroke="#fff" stroke-width="1.2" fill="none"/>
<path d="M1025.2,456.3 Q1038,474 1043.4,479.3 T1067,486.6" fill="none" stroke="#fff" stroke-width="1.1"/>
</g>
<path d="M790.8,367.9 V380.2" stroke="#0a0a0a" stroke-width="3.7" stroke-linecap="round"/>
<circle cx="790.8" cy="401.8" r="1.35" fill="#0a0a0a"/>
<path d="M790.8,423.5 V435.8" stroke="#0a0a0a" stroke-width="3.7" stroke-linecap="round"/>
<circle cx="790.8" cy="457.4" r="1.35" fill="#0a0a0a"/>
<path d="M790.8,479.2 V491.5" stroke="#0a0a0a" stroke-width="3.7" stroke-linecap="round"/>
<circle cx="790.8" cy="513.1" r="1.35" fill="#0a0a0a"/>
<path d="M790.8,534.8 V547.1" stroke="#0a0a0a" stroke-width="3.7" stroke-linecap="round"/>
<circle cx="790.8" cy="568.7" r="1.35" fill="#0a0a0a"/>
<path d="M790.8,590.5 V602.8" stroke="#0a0a0a" stroke-width="3.7" stroke-linecap="round"/>
<circle cx="790.8" cy="624.4" r="1.35" fill="#0a0a0a"/>
<path d="M790.8,646.1 V658.4" stroke="#0a0a0a" stroke-width="3.7" stroke-linecap="round"/>
<circle cx="790.8" cy="680" r="1.35" fill="#0a0a0a"/>
<path d="M790.8,701.8 V714.1" stroke="#0a0a0a" stroke-width="3.7" stroke-linecap="round"/>
<text x="11.2" y="514.2" font-size="57.5">(a)</text>
<text x="1494.6" y="513.2" font-size="57.5" style="fill:#fff">(c)</text>
<rect x="6" y="900.8" width="784.9" height="239.7" fill="#68ccdc"/>
<rect x="790.9" y="900.8" width="784.1" height="239.7" fill="#3651ae"/>
<clipPath id="clipB"><rect x="6" y="900.8" width="784.9" height="239.7"/></clipPath>
<clipPath id="clipD"><rect x="790.9" y="900.8" width="784.1" height="239.7"/></clipPath>
<clipPath id="clipBD"><rect x="6" y="900.8" width="1569" height="239.7"/></clipPath>
<g clip-path="url(#clipB)">
<path d="M734.3,907.7C736.3,935.5 759.2,957.4 790.9,957.4L790.9,901 L771.1,901.6 Z" fill="#4d92d6" stroke="#0c1430" stroke-width="0.9" stroke-opacity="0.85"/>
<path d="M750.9,909.4C752.9,926.7 768.5,940.3 790.9,940.3L790.9,901 L776.9,901.6 Z" fill="#3d62be" stroke="#0c1430" stroke-width="0.9" stroke-opacity="0.85"/>
<path d="M758.3,909.6C760.3,922.6 772.6,932.9 790.9,932.9L790.9,901 L779.5,901.6 Z" fill="#3852b0" stroke="#0c1430" stroke-width="0.9" stroke-opacity="0.85"/>
<path d="M764,909.6C766,920.4 775.8,928.9 790.9,928.9L790.9,901 L781.5,901.6 Z" fill="#3f4aa8" stroke="#0c1430" stroke-width="0.9" stroke-opacity="0.85"/>
<path d="M768.6,909.6C770.6,918.2 778.4,924.9 790.9,924.9L790.9,901 L783.1,901.6 Z" fill="#5a3ea2" stroke="#0c1430" stroke-width="0.9" stroke-opacity="0.85"/>
<path d="M772,909.6C774,916.5 780.3,922 790.9,922L790.9,901 L784.3,901.6 Z" fill="#80329e" stroke="#0c1430" stroke-width="0.9" stroke-opacity="0.85"/>
<path d="M775,909.6C777,914.9 782,919.1 790.9,919.1L790.9,901 L785.3,901.6 Z" fill="#c02898" stroke="#0c1430" stroke-width="0.9" stroke-opacity="0.85"/>
<path d="M772.6,901 L790.9,901 L790.9,916 L786,916 L775,910 Z" fill="#0a0a0a"/>
<ellipse cx="781.3" cy="909.4" rx="3.7" ry="3.7" fill="#f0c62a"/>
<path d="M788.2,910 L790.9,905 L790.9,915.8 L788.8,915 Z" fill="#f0c62a"/>
</g>
<g clip-path="url(#clipD)">
<path d="M790.9,901L826.3,902.8Q834.3,904.9 834.3,908.9C833.3,919.8 822.2,927.1 807.4,927.1Q792.9,926.1 790.9,918.1 Z" fill="#4473c4" stroke="#0c1430" stroke-width="0.9" stroke-opacity="0.85"/>
<path d="M790.9,901L816,902.8Q824,904.5 824,908.5C823,917 815.5,922.6 805,922.6Q792.9,921.6 790.9,913.6 Z" fill="#50b0e6" stroke="#0c1430" stroke-width="0.9" stroke-opacity="0.85"/>
<path d="M790.9,901L812,902.8Q820,904.3 820,908.3C819,915.4 812.8,920.2 804,920.2Q792.9,919.2 790.9,911.2 Z" fill="#6cc8d4" stroke="#0c1430" stroke-width="0.9" stroke-opacity="0.85"/>
<path d="M790.9,901L809,902.8Q817,904 817,908C816,914.2 810.9,918.4 803.5,918.4Q792.9,917.4 790.9,909.4 Z" fill="#6ac49a" stroke="#0c1430" stroke-width="0.9" stroke-opacity="0.85"/>
<path d="M790.9,901L806.5,902.8Q814.5,903.8 814.5,907.8C813.5,913.3 809.3,917 803,917Q792.9,916 790.9,908 Z" fill="#64bc62" stroke="#0c1430" stroke-width="0.9" stroke-opacity="0.85"/>
<path d="M790.9,901 L810,901 L812,906 L808,914 L800,917.5 L790.9,916.5 Z" fill="#0a0a0a"/>
<ellipse cx="798.6" cy="909.2" rx="6.6" ry="5.4" fill="#ee3124"/>
</g>
<g clip-path="url(#clipBD)">
<path d="M470.2,1141C470.6,1135.7 470.2,1121 472.7,1109C475.2,1097 479.9,1080.6 485,1068.8C490.1,1057 496.4,1048.3 503.6,1038C510.8,1027.7 518,1018.9 528.3,1007C538.6,995.1 553,979.8 565.4,966.9C577.8,954 590.1,942.7 602.5,929.8C614.9,916.9 633.4,896.3 639.6,889.6" fill="none" stroke="#0b0b0f" stroke-width="1.25"/>
<path d="M479.5,1141C480.2,1135.7 481,1120.5 483.5,1109C486,1097.5 489.4,1083.8 494.3,1072C499.2,1060.2 506.2,1048.3 512.9,1038C519.6,1027.7 524.7,1021.3 534.5,1010C544.3,998.7 559.2,983.1 571.6,970C584,956.9 597.1,943.4 608.7,931.3C620.3,919.2 635.7,903 641.1,897.3" fill="none" stroke="#0b0b0f" stroke-width="1.25"/>
<path d="M533.6,1141C534.3,1135.7 534.9,1121 537.6,1109C540.3,1097 544.3,1081.7 550,1068.8C555.7,1055.9 562.9,1044.1 571.6,1031.8C580.4,1019.4 592.2,1006.6 602.5,994.7C612.8,982.9 622.1,972.8 633.4,960.7C644.7,948.6 659.2,933.9 670.5,922C681.8,910.1 696.2,895 701.4,889.6" fill="none" stroke="#0b0b0f" stroke-width="1.25"/>
<path d="M545.3,1141C545.8,1135.7 545.8,1121 548.4,1109C551,1097 555.4,1081.1 560.8,1068.8C566.2,1056.5 572.9,1046.7 580.9,1034.9C588.9,1023.1 598.4,1010.2 608.7,997.8C619,985.4 631.4,973.1 642.7,960.7C654,948.3 667.2,933.9 676.7,923.6C686.2,913.3 695.9,903 699.8,898.9" fill="none" stroke="#0b0b0f" stroke-width="1.25"/>
<path d="M570,1141C570.5,1135.7 570.3,1121.5 573.1,1109C575.9,1096.5 581.1,1079.2 587,1065.8C592.9,1052.4 600.5,1040.5 608.7,1028.7C617,1016.9 626.2,1006.6 636.5,994.7C646.8,982.9 658.6,969.7 670.5,957.6C682.4,945.5 695.2,933.2 707.6,922.1C720,911 738.4,896.4 744.6,891.2" fill="none" stroke="#0b0b0f" stroke-width="1.25"/>
<path d="M584,1141C584.2,1135.7 583.5,1121 585.5,1109C587.5,1097 590.9,1081.7 596.3,1068.8C601.7,1055.9 610.2,1043.1 617.9,1031.8C625.6,1020.5 632.9,1012.8 642.7,1000.9C652.5,989 664.9,973.8 676.7,960.7C688.5,947.6 702.9,933.2 713.7,922.1C724.5,911 737,898.9 741.6,894.3" fill="none" stroke="#0b0b0f" stroke-width="1.25"/>
<path d="M589.5,1141C589.8,1135.7 589.1,1120.7 591,1109C592.9,1097.3 595.9,1083.2 601,1070.8C606.1,1058.4 614,1046 621.5,1034.8C629,1023.6 636.4,1015.4 646,1003.5C655.6,991.6 667.5,976.9 679,963.7C690.5,950.5 704.6,935.5 715.2,924.1C725.8,912.7 738,900.1 742.6,895.3" fill="none" stroke="#0b0b0f" stroke-width="1.25"/>
<path d="M651.3,1141C651.7,1135.7 651.3,1121 653.5,1109C655.7,1097 659.9,1081.1 664.3,1068.8C668.7,1056.5 673.6,1046.7 679.8,1034.9C686,1023.1 693.7,1010.2 701.4,997.8C709.1,985.4 717.9,971.5 726.1,960.7C734.3,949.9 743.1,941.6 750.8,932.9C758.5,924.1 766.6,914.9 772.5,908.2C778.4,901.6 783.8,895.5 786,893" fill="none" stroke="#0b0b0f" stroke-width="1.25"/>
<path d="M670.5,1141C671,1135.7 671,1121.5 673.6,1109C676.2,1096.5 680.8,1079.7 685.9,1065.8C691,1051.9 698.3,1038 704.5,1025.6C710.7,1013.2 717.3,1001.9 723,991.6C728.7,981.3 732.3,974.1 738.5,963.8C744.7,953.5 753.4,939.6 760.1,929.8C766.8,920 773.8,911.6 778.6,905C783.4,898.4 787.3,892.5 789,890" fill="none" stroke="#0b0b0f" stroke-width="1.25"/>
<path d="M725,1141C725.5,1135.7 726.3,1121 727.8,1109C729.3,1097 731.1,1083.2 734.2,1068.8C737.3,1054.4 742.4,1037.4 746.5,1022.5C750.6,1007.6 754.9,992.6 759.1,979.2C763.3,965.8 767.4,953.5 771.5,942.2C775.6,930.9 780.3,920 783.8,911.2C787.3,902.4 791,893.2 792.5,889.6" fill="none" stroke="#0b0b0f" stroke-width="1.25"/>
<path d="M727.4,1141C727.8,1135.7 728.3,1121 729.6,1109C730.9,1097 732.4,1083.2 735.4,1068.8C738.4,1054.4 743.4,1037.4 747.5,1022.5C751.6,1007.6 755.9,992.6 760,979.2C764.1,965.8 768.2,953.5 772.3,942.2C776.4,930.9 781,920 784.4,911.2C787.8,902.4 791.4,893.2 792.8,889.6" fill="none" stroke="#0b0b0f" stroke-width="1.25"/>
<path d="M531.6,1004 L520.9,1021.2 L516.6,1017.6 Z" fill="#111"/><path d="M527.1,1009.4 L519.6,1019" stroke="#9a9a9a" stroke-width="0.7" stroke-opacity="0.8"/>
<path d="M516.6,1035.6 L508.4,1054.1 L503.6,1051.1 Z" fill="#111"/><path d="M512.9,1041.6 L506.8,1052.1" stroke="#9a9a9a" stroke-width="0.7" stroke-opacity="0.8"/>
<path d="M638.7,900.9 L627.1,917.4 L623,913.6 Z" fill="#111"/><path d="M633.9,906 L625.9,915.2" stroke="#9a9a9a" stroke-width="0.7" stroke-opacity="0.8"/>
<path d="M608.9,987 L598.2,1004.2 L593.9,1000.6 Z" fill="#111"/><path d="M604.4,992.4 L596.9,1002" stroke="#9a9a9a" stroke-width="0.7" stroke-opacity="0.8"/>
<path d="M589.7,1011.2 L580.6,1029.2 L576,1026 Z" fill="#111"/><path d="M585.7,1016.9 L579.1,1027.2" stroke="#9a9a9a" stroke-width="0.7" stroke-opacity="0.8"/>
<path d="M637,965.6 L625.7,982.3 L621.5,978.6 Z" fill="#111"/><path d="M632.3,970.8 L624.4,980.1" stroke="#9a9a9a" stroke-width="0.7" stroke-opacity="0.8"/>
<path d="M537,1122.1 L537.7,1142.2 L532.2,1141.7 Z" fill="#111"/><path d="M536.3,1129 L535.4,1141.2" stroke="#9a9a9a" stroke-width="0.7" stroke-opacity="0.8"/>
<path d="M547.3,1120.1 L548,1140.2 L542.5,1139.7 Z" fill="#111"/><path d="M546.6,1127 L545.7,1139.2" stroke="#9a9a9a" stroke-width="0.7" stroke-opacity="0.8"/>
<path d="M655.6,970.3 L644.3,987 L640.1,983.3 Z" fill="#111"/><path d="M650.9,975.5 L643,984.8" stroke="#9a9a9a" stroke-width="0.7" stroke-opacity="0.8"/>
<path d="M571.7,1121.6 L572.4,1141.7 L566.9,1141.2 Z" fill="#111"/><path d="M571,1128.5 L570.1,1140.7" stroke="#9a9a9a" stroke-width="0.7" stroke-opacity="0.8"/>
<path d="M645.8,999.1 L635.6,1016.6 L631.2,1013.2 Z" fill="#111"/><path d="M641.4,1004.6 L634.3,1014.5" stroke="#9a9a9a" stroke-width="0.7" stroke-opacity="0.8"/>
<path d="M656.8,988.5 L646.1,1005.7 L641.8,1002.1 Z" fill="#111"/><path d="M652.3,993.9 L644.8,1003.5" stroke="#9a9a9a" stroke-width="0.7" stroke-opacity="0.8"/>
<path d="M739.5,894.5 L727.1,910.4 L723.2,906.3 Z" fill="#111"/><path d="M734.5,899.3 L726,908.1" stroke="#9a9a9a" stroke-width="0.7" stroke-opacity="0.8"/>
<path d="M706.6,989.2 L698.6,1007.8 L693.8,1004.9 Z" fill="#111"/><path d="M702.9,995.2 L697,1005.9" stroke="#9a9a9a" stroke-width="0.7" stroke-opacity="0.8"/>
<path d="M738.8,961.3 L731.2,980.1 L726.4,977.3 Z" fill="#111"/><path d="M735.3,967.4 L729.5,978.2" stroke="#9a9a9a" stroke-width="0.7" stroke-opacity="0.8"/>
<path d="M671.7,1120.1 L672.1,1140.3 L666.5,1139.6 Z" fill="#111"/><path d="M670.9,1127 L669.8,1139.2" stroke="#9a9a9a" stroke-width="0.7" stroke-opacity="0.8"/>
<path d="M756.7,988.2 L753.8,1008.2 L748.5,1006.6 Z" fill="#111"/><path d="M754.7,994.9 L751.7,1006.8" stroke="#9a9a9a" stroke-width="0.7" stroke-opacity="0.8"/>
</g>
<rect x="390.6" y="853.3" width="800.8" height="47.5" fill="#c3c4c7"/>
<path d="M390.6,853.3 A400.4,36.2 0 0 1 1191.4,853.3 Z" fill="#c6c7c9"/>
<path d="M390.6,853.3 A400.4,36.2 0 0 0 1191.4,853.3 Z" fill="#aaabb0"/>
<ellipse cx="791" cy="853.3" rx="400.4" ry="36.2" fill="none" stroke="#97989e" stroke-width="2.2"/>
<path d="M390.6,853.3 V900.2 H1191.4 V853.3" fill="none" stroke="#a0a1a6" stroke-width="2.2"/>
<path d="M390.6,853.3 H1191.4" stroke="#8e8f95" stroke-width="2.5"/>
<path d="M390.6,853.3 H1191.4" stroke="#4468c4" stroke-width="2.6" stroke-dasharray="14 20.8" stroke-dashoffset="-20.4"/>
<path d="M640.5,888.5 L626.3,902.8 L623.2,898.9 Z" fill="#5c5d63"/>
<path d="M702.6,888.5 L688.4,902.8 L685.3,898.9 Z" fill="#5c5d63"/>
<path d="M745.1,890.6 L729.7,903.5 L727,899.3 Z" fill="#5c5d63"/>
<path d="M791.6,886.5 L779.6,902.6 L776,899.2 Z" fill="#5c5d63"/>
<path d="M638.1,888.4 L626.1,904.5 L622.5,901.1 Z" fill="#5c5d63"/>
<path d="M699.9,888.6 L687.9,904.7 L684.3,901.3 Z" fill="#5c5d63"/>
<path d="M742,890.5 L728.8,905.7 L725.5,902 Z" fill="#5c5d63"/>
<path d="M623,905 L641,886 M685,904 L703,886 M728,905 L747.5,888 M774,907 L794,884" stroke="#55565c" stroke-width="1" fill="none"/>
<g clip-path="url(#clipBD)">
<path d="M842.3,917.2 L827.1,964.2" stroke="#fff" stroke-width="1.4" fill="none"/><path d="M820.8,983.7 L824.2,963.2 L830.1,965.1 Z" fill="#fff"/><path d="M820.8,983.7 L830.1,965.1 L827.8,964.4 Z" fill="#c9ccd6"/>
<path d="M850.9,918.2 L833.9,968.6" stroke="#fff" stroke-width="1.4" fill="none"/><path d="M827.3,988 L830.9,967.6 L836.8,969.6 Z" fill="#fff"/><path d="M827.3,988 L836.8,969.6 L834.6,968.8 Z" fill="#c9ccd6"/>
<path d="M850,941.1 L818.4,987.1" stroke="#fff" stroke-width="1.4" fill="none"/><path d="M806.8,1004 L815.9,985.3 L821,988.9 Z" fill="#fff"/><path d="M806.8,1004 L821,988.9 L819,987.5 Z" fill="#c9ccd6"/>
<path d="M841.7,941.1 L810,979.7" stroke="#fff" stroke-width="1.4" fill="none"/><path d="M797,995.6 L807.6,977.8 L812.4,981.7 Z" fill="#fff"/><path d="M797,995.6 L812.4,981.7 L810.6,980.2 Z" fill="#c9ccd6"/>
<path d="M985.6,945 L977.1,982" stroke="#fff" stroke-width="1.4" fill="none"/><path d="M972.5,1002 L974.1,981.3 L980.1,982.7 Z" fill="#fff"/><path d="M972.5,1002 L980.1,982.7 L977.8,982.2 Z" fill="#c9ccd6"/>
<path d="M815.5,949.3 L754.5,968.5" stroke="#fff" stroke-width="1.4" fill="none"/><path d="M735,974.7 L753.6,965.6 L755.5,971.5 Z" fill="#fff"/><path d="M735,974.7 L755.5,971.5 L754.8,969.3 Z" fill="#c9ccd6"/>
<path d="M803.7,972.9 L753.5,982.1" stroke="#fff" stroke-width="1.4" fill="none"/><path d="M733.3,985.8 L752.9,979.1 L754,985.2 Z" fill="#fff"/><path d="M733.3,985.8 L754,985.2 L753.6,982.9 Z" fill="#c9ccd6"/>
<path d="M818.7,933.3 L778.6,967.3" stroke="#fff" stroke-width="1.4" fill="none"/><path d="M762.9,980.5 L776.5,964.9 L780.6,969.6 Z" fill="#fff"/><path d="M762.9,980.5 L780.6,969.6 L779.1,967.9 Z" fill="#c9ccd6"/>
<path d="M805.8,996.5 L774.8,1007.1" stroke="#fff" stroke-width="1.4" fill="none"/><path d="M755.4,1013.7 L773.8,1004.1 L775.8,1010 Z" fill="#fff"/><path d="M755.4,1013.7 L775.8,1010 L775.1,1007.8 Z" fill="#c9ccd6"/>
<path d="M806.9,1011.6 L753.2,1019.7" stroke="#fff" stroke-width="1.4" fill="none"/><path d="M732.9,1022.7 L752.7,1016.6 L753.6,1022.7 Z" fill="#fff"/><path d="M732.9,1022.7 L753.6,1022.7 L753.3,1020.4 Z" fill="#c9ccd6"/>
<path d="M861.6,980.5 L821.3,1015.3" stroke="#fff" stroke-width="1.4" fill="none"/><path d="M805.8,1028.7 L819.3,1013 L823.3,1017.6 Z" fill="#fff"/><path d="M805.8,1028.7 L823.3,1017.6 L821.8,1015.9 Z" fill="#c9ccd6"/>
<path d="M865.9,964.4 L834.8,998.5" stroke="#fff" stroke-width="1.4" fill="none"/><path d="M821,1013.7 L832.5,996.5 L837.1,1000.6 Z" fill="#fff"/><path d="M821,1013.7 L837.1,1000.6 L835.4,999.1 Z" fill="#c9ccd6"/>
<path d="M889.5,933.3 L872.7,981.4" stroke="#fff" stroke-width="1.4" fill="none"/><path d="M865.9,1000.8 L869.7,980.4 L875.6,982.5 Z" fill="#fff"/><path d="M865.9,1000.8 L875.6,982.5 L873.4,981.7 Z" fill="#c9ccd6"/>
<path d="M879.8,989 L842.1,1025.3" stroke="#fff" stroke-width="1.4" fill="none"/><path d="M827.3,1039.5 L839.9,1023.1 L844.2,1027.5 Z" fill="#fff"/><path d="M827.3,1039.5 L844.2,1027.5 L842.6,1025.8 Z" fill="#c9ccd6"/>
<path d="M867,1021.2 L819.5,1046.9" stroke="#fff" stroke-width="1.4" fill="none"/><path d="M801.5,1056.6 L818.1,1044.1 L821,1049.6 Z" fill="#fff"/><path d="M801.5,1056.6 L821,1049.6 L819.9,1047.5 Z" fill="#c9ccd6"/>
<path d="M863.7,1036.2 L818.4,1054.4" stroke="#fff" stroke-width="1.4" fill="none"/><path d="M799.4,1062 L817.3,1051.5 L819.6,1057.2 Z" fill="#fff"/><path d="M799.4,1062 L819.6,1057.2 L818.7,1055.1 Z" fill="#c9ccd6"/>
<path d="M867,1044.8 L814.5,1062.8" stroke="#fff" stroke-width="1.4" fill="none"/><path d="M795.1,1069.5 L813.5,1059.9 L815.5,1065.8 Z" fill="#fff"/><path d="M795.1,1069.5 L815.5,1065.8 L814.7,1063.6 Z" fill="#c9ccd6"/>
<path d="M870.2,1058.8 L815.2,1069.8" stroke="#fff" stroke-width="1.4" fill="none"/><path d="M795.1,1073.8 L814.6,1066.7 L815.8,1072.8 Z" fill="#fff"/><path d="M795.1,1073.8 L815.8,1072.8 L815.4,1070.5 Z" fill="#c9ccd6"/>
<path d="M868,1071.6 L812.2,1080.3" stroke="#fff" stroke-width="1.4" fill="none"/><path d="M791.9,1083.4 L811.7,1077.2 L812.6,1083.3 Z" fill="#fff"/><path d="M791.9,1083.4 L812.6,1083.3 L812.3,1081 Z" fill="#c9ccd6"/>
<path d="M853,1078.1 L821.5,1085.3" stroke="#fff" stroke-width="1.4" fill="none"/><path d="M801.5,1089.9 L820.8,1082.3 L822.2,1088.3 Z" fill="#fff"/><path d="M801.5,1089.9 L822.2,1088.3 L821.7,1086.1 Z" fill="#c9ccd6"/>
<path d="M857.3,1082.4 L821.6,1090" stroke="#fff" stroke-width="1.4" fill="none"/><path d="M801.5,1094.2 L820.9,1086.9 L822.2,1093 Z" fill="#fff"/><path d="M801.5,1094.2 L822.2,1093 L821.7,1090.7 Z" fill="#c9ccd6"/>
<path d="M865.9,1092 L810.9,1103" stroke="#fff" stroke-width="1.4" fill="none"/><path d="M790.8,1107 L810.3,1099.9 L811.5,1106 Z" fill="#fff"/><path d="M790.8,1107 L811.5,1106 L811.1,1103.7 Z" fill="#c9ccd6"/>
<path d="M853,1115.6 L805.8,1120.1" stroke="#fff" stroke-width="1.4" fill="none"/><path d="M785.4,1122.1 L805.5,1117.1 L806.1,1123.2 Z" fill="#fff"/><path d="M785.4,1122.1 L806.1,1123.2 L805.9,1120.9 Z" fill="#c9ccd6"/>
<path d="M916.3,964.4 L888.9,1013" stroke="#fff" stroke-width="1.4" fill="none"/><path d="M878.8,1030.9 L886.2,1011.5 L891.6,1014.6 Z" fill="#fff"/><path d="M878.8,1030.9 L891.6,1014.6 L889.5,1013.4 Z" fill="#c9ccd6"/>
<path d="M922.7,980.5 L889.6,1027" stroke="#fff" stroke-width="1.4" fill="none"/><path d="M877.7,1043.7 L887.1,1025.2 L892.1,1028.8 Z" fill="#fff"/><path d="M877.7,1043.7 L892.1,1028.8 L890.2,1027.5 Z" fill="#c9ccd6"/>
<path d="M926,988 L896.7,1031" stroke="#fff" stroke-width="1.4" fill="none"/><path d="M885.2,1048 L894.2,1029.3 L899.3,1032.8 Z" fill="#fff"/><path d="M885.2,1048 L899.3,1032.8 L897.4,1031.5 Z" fill="#c9ccd6"/>
<path d="M932.4,1005.1 L896.7,1045.5" stroke="#fff" stroke-width="1.4" fill="none"/><path d="M883.1,1060.9 L894.4,1043.5 L899,1047.6 Z" fill="#fff"/><path d="M883.1,1060.9 L899,1047.6 L897.3,1046.1 Z" fill="#c9ccd6"/>
<path d="M913.1,1021.2 L872.3,1053.6" stroke="#fff" stroke-width="1.4" fill="none"/><path d="M856.2,1066.3 L870.3,1051.1 L874.2,1056 Z" fill="#fff"/><path d="M856.2,1066.3 L874.2,1056 L872.7,1054.2 Z" fill="#c9ccd6"/>
<path d="M919.5,1036.2 L875.2,1067.3" stroke="#fff" stroke-width="1.4" fill="none"/><path d="M858.4,1079.1 L873.4,1064.8 L877,1069.9 Z" fill="#fff"/><path d="M858.4,1079.1 L877,1069.9 L875.6,1068 Z" fill="#c9ccd6"/>
<path d="M952.8,917.2 L946.6,970.8" stroke="#fff" stroke-width="1.4" fill="none"/><path d="M944.2,991.2 L943.5,970.5 L949.6,971.2 Z" fill="#fff"/><path d="M944.2,991.2 L949.6,971.2 L947.3,970.9 Z" fill="#c9ccd6"/>
<path d="M964.6,957.9 L941.6,1020.3" stroke="#fff" stroke-width="1.4" fill="none"/><path d="M934.5,1039.5 L938.7,1019.2 L944.5,1021.3 Z" fill="#fff"/><path d="M934.5,1039.5 L944.5,1021.3 L942.3,1020.5 Z" fill="#c9ccd6"/>
<path d="M968.9,974 L948.7,1010.7" stroke="#fff" stroke-width="1.4" fill="none"/><path d="M938.8,1028.7 L946,1009.2 L951.4,1012.2 Z" fill="#fff"/><path d="M938.8,1028.7 L951.4,1012.2 L949.4,1011.1 Z" fill="#c9ccd6"/>
<path d="M986,933.3 L972.8,1001.1" stroke="#fff" stroke-width="1.4" fill="none"/><path d="M968.9,1021.2 L969.8,1000.5 L975.9,1001.7 Z" fill="#fff"/><path d="M968.9,1021.2 L975.9,1001.7 L973.6,1001.2 Z" fill="#c9ccd6"/>
<path d="M990.3,909.7 L988,962.1" stroke="#fff" stroke-width="1.4" fill="none"/><path d="M987.1,982.6 L984.9,962 L991.1,962.3 Z" fill="#fff"/><path d="M987.1,982.6 L991.1,962.3 L988.8,962.2 Z" fill="#c9ccd6"/>
<path d="M998.9,962.2 L994.9,984.9" stroke="#fff" stroke-width="1.4" fill="none"/><path d="M991.4,1005.1 L991.9,984.4 L998,985.4 Z" fill="#fff"/><path d="M991.4,1005.1 L998,985.4 L995.7,985 Z" fill="#c9ccd6"/>
<path d="M960.3,1013.7 L923.6,1054.3" stroke="#fff" stroke-width="1.4" fill="none"/><path d="M909.9,1069.5 L921.3,1052.2 L925.9,1056.4 Z" fill="#fff"/><path d="M909.9,1069.5 L925.9,1056.4 L924.2,1054.8 Z" fill="#c9ccd6"/>
<path d="M967.8,1028.7 L928.3,1064.4" stroke="#fff" stroke-width="1.4" fill="none"/><path d="M913.1,1078.1 L926.2,1062.1 L930.4,1066.7 Z" fill="#fff"/><path d="M913.1,1078.1 L930.4,1066.7 L928.8,1064.9 Z" fill="#c9ccd6"/>
<path d="M994.6,1007.3 L977.3,1035.9" stroke="#fff" stroke-width="1.4" fill="none"/><path d="M966.7,1053.4 L974.7,1034.3 L980,1037.5 Z" fill="#fff"/><path d="M966.7,1053.4 L980,1037.5 L978,1036.3 Z" fill="#c9ccd6"/>
<path d="M965.7,1053.4 L918.6,1083.2" stroke="#fff" stroke-width="1.4" fill="none"/><path d="M901.3,1094.2 L917,1080.6 L920.3,1085.8 Z" fill="#fff"/><path d="M901.3,1094.2 L920.3,1085.8 L919,1083.9 Z" fill="#c9ccd6"/>
<path d="M968.9,1068.4 L922.7,1092.3" stroke="#fff" stroke-width="1.4" fill="none"/><path d="M904.5,1101.7 L921.3,1089.5 L924.1,1095 Z" fill="#fff"/><path d="M904.5,1101.7 L924.1,1095 L923.1,1093 Z" fill="#c9ccd6"/>
<path d="M998.9,1050.2 L963.8,1076.5" stroke="#fff" stroke-width="1.4" fill="none"/><path d="M947.4,1088.8 L961.9,1074 L965.7,1079 Z" fill="#fff"/><path d="M947.4,1088.8 L965.7,1079 L964.3,1077.1 Z" fill="#c9ccd6"/>
<path d="M998.9,1069.5 L950.5,1095.3" stroke="#fff" stroke-width="1.4" fill="none"/><path d="M932.4,1104.9 L949,1092.5 L952,1098 Z" fill="#fff"/><path d="M932.4,1104.9 L952,1098 L950.9,1096 Z" fill="#c9ccd6"/>
<path d="M998.9,1078.1 L953,1100.3" stroke="#fff" stroke-width="1.4" fill="none"/><path d="M934.5,1109.2 L951.6,1097.5 L954.3,1103.1 Z" fill="#fff"/><path d="M934.5,1109.2 L954.3,1103.1 L953.3,1101 Z" fill="#c9ccd6"/>
<path d="M967,1100.3 L911.9,1108.9" stroke="#fff" stroke-width="1.4" fill="none"/><path d="M891.6,1112 L911.4,1105.8 L912.3,1111.9 Z" fill="#fff"/><path d="M891.6,1112 L912.3,1111.9 L912,1109.6 Z" fill="#c9ccd6"/>
<path d="M981.7,1108.1 L916.2,1117.1" stroke="#fff" stroke-width="1.4" fill="none"/><path d="M895.9,1119.9 L915.8,1114 L916.6,1120.2 Z" fill="#fff"/><path d="M895.9,1119.9 L916.6,1120.2 L916.3,1117.9 Z" fill="#c9ccd6"/>
<path d="M998.9,1117.8 L889.5,1125.6" stroke="#fff" stroke-width="1.4" fill="none"/><path d="M869.1,1127 L889.3,1122.5 L889.8,1128.6 Z" fill="#fff"/><path d="M869.1,1127 L889.8,1128.6 L889.6,1126.3 Z" fill="#c9ccd6"/>
<path d="M998.9,1125.3 L929.2,1130.2" stroke="#fff" stroke-width="1.4" fill="none"/><path d="M908.8,1131.7 L929,1127.2 L929.5,1133.3 Z" fill="#fff"/><path d="M908.8,1131.7 L929.5,1133.3 L929.3,1131 Z" fill="#c9ccd6"/>
<path d="M998.9,1133.9 L978.5,1135.5" stroke="#fff" stroke-width="1.4" fill="none"/><path d="M958.1,1137.1 L978.3,1132.4 L978.8,1138.6 Z" fill="#fff"/><path d="M958.1,1137.1 L978.8,1138.6 L978.6,1136.3 Z" fill="#c9ccd6"/>
<path d="M1006.1,909.7 L1003.8,963.2" stroke="#fff" stroke-width="1.4" fill="none"/><path d="M1002.9,983.7 L1000.7,963.1 L1006.9,963.4 Z" fill="#fff"/><path d="M1002.9,983.7 L1006.9,963.4 L1004.6,963.3 Z" fill="#c9ccd6"/>
<path d="M1025.4,924.7 L1018.4,978.4" stroke="#fff" stroke-width="1.4" fill="none"/><path d="M1015.7,998.7 L1015.3,978 L1021.4,978.8 Z" fill="#fff"/><path d="M1015.7,998.7 L1021.4,978.8 L1019.1,978.5 Z" fill="#c9ccd6"/>
<path d="M1020,949.3 L1005.2,1002.5" stroke="#fff" stroke-width="1.4" fill="none"/><path d="M999.7,1022.3 L1002.2,1001.7 L1008.2,1003.4 Z" fill="#fff"/><path d="M999.7,1022.3 L1008.2,1003.4 L1005.9,1002.8 Z" fill="#c9ccd6"/>
<path d="M1002.9,953.6 L996.3,985" stroke="#fff" stroke-width="1.4" fill="none"/><path d="M992.1,1005.1 L993.3,984.4 L999.3,985.7 Z" fill="#fff"/><path d="M992.1,1005.1 L999.3,985.7 L997.1,985.2 Z" fill="#c9ccd6"/>
<path d="M1036.1,941.8 L1024.4,995.9" stroke="#fff" stroke-width="1.4" fill="none"/><path d="M1020,1015.9 L1021.3,995.2 L1027.4,996.5 Z" fill="#fff"/><path d="M1020,1015.9 L1027.4,996.5 L1025.1,996 Z" fill="#c9ccd6"/>
<path d="M1044.7,956.9 L1027.5,1009.2" stroke="#fff" stroke-width="1.4" fill="none"/><path d="M1021.1,1028.7 L1024.6,1008.3 L1030.4,1010.2 Z" fill="#fff"/><path d="M1021.1,1028.7 L1030.4,1010.2 L1028.2,1009.5 Z" fill="#c9ccd6"/>
<path d="M1053.3,980.5 L1032.2,1024.2" stroke="#fff" stroke-width="1.4" fill="none"/><path d="M1023.3,1042.7 L1029.4,1022.9 L1035,1025.6 Z" fill="#fff"/><path d="M1023.3,1042.7 L1035,1025.6 L1032.9,1024.6 Z" fill="#c9ccd6"/>
<path d="M1072.6,965.4 L1054,1016" stroke="#fff" stroke-width="1.4" fill="none"/><path d="M1046.9,1035.2 L1051.1,1014.9 L1056.9,1017 Z" fill="#fff"/><path d="M1046.9,1035.2 L1056.9,1017 L1054.7,1016.2 Z" fill="#c9ccd6"/>
<path d="M1095.1,917.2 L1091.2,972.8" stroke="#fff" stroke-width="1.4" fill="none"/><path d="M1089.8,993.3 L1088.1,972.6 L1094.3,973.1 Z" fill="#fff"/><path d="M1089.8,993.3 L1094.3,973.1 L1092,972.9 Z" fill="#c9ccd6"/>
<path d="M1103.7,956.9 L1087.4,1008.2" stroke="#fff" stroke-width="1.4" fill="none"/><path d="M1081.2,1027.7 L1084.5,1007.2 L1090.4,1009.1 Z" fill="#fff"/><path d="M1081.2,1027.7 L1090.4,1009.1 L1088.1,1008.4 Z" fill="#c9ccd6"/>
<path d="M1046.9,1013.7 L1015.3,1055.3" stroke="#fff" stroke-width="1.4" fill="none"/><path d="M1002.9,1071.6 L1012.8,1053.4 L1017.8,1057.2 Z" fill="#fff"/><path d="M1002.9,1071.6 L1017.8,1057.2 L1015.9,1055.7 Z" fill="#c9ccd6"/>
<path d="M1095.1,997.6 L1066.3,1043.5" stroke="#fff" stroke-width="1.4" fill="none"/><path d="M1055.4,1060.9 L1063.7,1041.9 L1068.9,1045.2 Z" fill="#fff"/><path d="M1055.4,1060.9 L1068.9,1045.2 L1066.9,1043.9 Z" fill="#c9ccd6"/>
<path d="M1088.7,1005.1 L1057.7,1048.5" stroke="#fff" stroke-width="1.4" fill="none"/><path d="M1045.8,1065.2 L1055.2,1046.7 L1060.2,1050.3 Z" fill="#fff"/><path d="M1045.8,1065.2 L1060.2,1050.3 L1058.3,1049 Z" fill="#c9ccd6"/>
<path d="M1076.9,1021.2 L1040.9,1062.6" stroke="#fff" stroke-width="1.4" fill="none"/><path d="M1027.5,1078.1 L1038.6,1060.6 L1043.3,1064.7 Z" fill="#fff"/><path d="M1027.5,1078.1 L1043.3,1064.7 L1041.5,1063.1 Z" fill="#c9ccd6"/>
<path d="M1056.5,1037.3 L1016.7,1074.7" stroke="#fff" stroke-width="1.4" fill="none"/><path d="M1001.8,1088.8 L1014.6,1072.5 L1018.9,1077 Z" fill="#fff"/><path d="M1001.8,1088.8 L1018.9,1077 L1017.3,1075.3 Z" fill="#c9ccd6"/>
<path d="M1125.2,981.5 L1101.9,1029.5" stroke="#fff" stroke-width="1.4" fill="none"/><path d="M1093,1048 L1099.1,1028.2 L1104.7,1030.9 Z" fill="#fff"/><path d="M1093,1048 L1104.7,1030.9 L1102.6,1029.9 Z" fill="#c9ccd6"/>
<path d="M1106.9,1012.6 L1074.3,1055.3" stroke="#fff" stroke-width="1.4" fill="none"/><path d="M1061.9,1071.6 L1071.9,1053.4 L1076.8,1057.2 Z" fill="#fff"/><path d="M1061.9,1071.6 L1076.8,1057.2 L1074.9,1055.8 Z" fill="#c9ccd6"/>
<path d="M1157.3,949.3 L1142.5,1002.5" stroke="#fff" stroke-width="1.4" fill="none"/><path d="M1137,1022.3 L1139.5,1001.7 L1145.5,1003.4 Z" fill="#fff"/><path d="M1137,1022.3 L1145.5,1003.4 L1143.2,1002.8 Z" fill="#c9ccd6"/>
<path d="M1163.8,909.7 L1161.5,965.3" stroke="#fff" stroke-width="1.4" fill="none"/><path d="M1160.6,985.8 L1158.4,965.2 L1164.6,965.4 Z" fill="#fff"/><path d="M1160.6,985.8 L1164.6,965.4 L1162.2,965.4 Z" fill="#c9ccd6"/>
<path d="M1173.4,933.3 L1164.1,987.1" stroke="#fff" stroke-width="1.4" fill="none"/><path d="M1160.6,1007.3 L1161,986.6 L1167.1,987.6 Z" fill="#fff"/><path d="M1160.6,1007.3 L1167.1,987.6 L1164.9,987.2 Z" fill="#c9ccd6"/>
<path d="M1159.5,994.4 L1137,1036.4" stroke="#fff" stroke-width="1.4" fill="none"/><path d="M1127.3,1054.5 L1134.2,1035 L1139.7,1037.9 Z" fill="#fff"/><path d="M1127.3,1054.5 L1139.7,1037.9 L1137.7,1036.8 Z" fill="#c9ccd6"/>
<path d="M1138,1020.1 L1115.1,1050" stroke="#fff" stroke-width="1.4" fill="none"/><path d="M1102.6,1066.3 L1112.6,1048.1 L1117.5,1051.9 Z" fill="#fff"/><path d="M1102.6,1066.3 L1117.5,1051.9 L1115.7,1050.5 Z" fill="#c9ccd6"/>
<path d="M1129.5,1037.3 L1089.6,1074.8" stroke="#fff" stroke-width="1.4" fill="none"/><path d="M1074.7,1088.8 L1087.5,1072.5 L1091.8,1077 Z" fill="#fff"/><path d="M1074.7,1088.8 L1091.8,1077 L1090.2,1075.3 Z" fill="#c9ccd6"/>
<path d="M1098.3,1052.3 L1054.5,1086" stroke="#fff" stroke-width="1.4" fill="none"/><path d="M1038.3,1098.5 L1052.7,1083.5 L1056.4,1088.4 Z" fill="#fff"/><path d="M1038.3,1098.5 L1056.4,1088.4 L1055,1086.6 Z" fill="#c9ccd6"/>
<path d="M1199.2,940.8 L1186.6,995.9" stroke="#fff" stroke-width="1.4" fill="none"/><path d="M1182,1015.9 L1183.6,995.2 L1189.6,996.6 Z" fill="#fff"/><path d="M1182,1015.9 L1189.6,996.6 L1187.3,996.1 Z" fill="#c9ccd6"/>
<path d="M1211,909.7 L1208.7,963.2" stroke="#fff" stroke-width="1.4" fill="none"/><path d="M1207.8,983.7 L1205.6,963.1 L1211.8,963.4 Z" fill="#fff"/><path d="M1207.8,983.7 L1211.8,963.4 L1209.5,963.3 Z" fill="#c9ccd6"/>
<path d="M1203.5,972.9 L1182.4,1023.8" stroke="#fff" stroke-width="1.4" fill="none"/><path d="M1174.5,1042.7 L1179.5,1022.6 L1185.2,1025 Z" fill="#fff"/><path d="M1174.5,1042.7 L1185.2,1025 L1183.1,1024.1 Z" fill="#c9ccd6"/>
<path d="M1183.1,996.5 L1170.2,1024.1" stroke="#fff" stroke-width="1.4" fill="none"/><path d="M1161.6,1042.7 L1167.4,1022.8 L1173.1,1025.4 Z" fill="#fff"/><path d="M1161.6,1042.7 L1173.1,1025.4 L1171,1024.4 Z" fill="#c9ccd6"/>
<path d="M1217.4,996.5 L1188.6,1042.4" stroke="#fff" stroke-width="1.4" fill="none"/><path d="M1177.7,1059.8 L1186,1040.8 L1191.2,1044.1 Z" fill="#fff"/><path d="M1177.7,1059.8 L1191.2,1044.1 L1189.2,1042.8 Z" fill="#c9ccd6"/>
<path d="M1188.5,1028.7 L1151.1,1068.5" stroke="#fff" stroke-width="1.4" fill="none"/><path d="M1137,1083.4 L1148.8,1066.3 L1153.3,1070.6 Z" fill="#fff"/><path d="M1137,1083.4 L1153.3,1070.6 L1151.6,1069 Z" fill="#c9ccd6"/>
<path d="M1165.9,1044.8 L1124.7,1079.8" stroke="#fff" stroke-width="1.4" fill="none"/><path d="M1109.1,1093.1 L1122.7,1077.5 L1126.7,1082.2 Z" fill="#fff"/><path d="M1109.1,1093.1 L1126.7,1082.2 L1125.2,1080.4 Z" fill="#c9ccd6"/>
<path d="M1143.4,1065.2 L1103.6,1091.4" stroke="#fff" stroke-width="1.4" fill="none"/><path d="M1086.5,1102.7 L1101.9,1088.8 L1105.3,1094 Z" fill="#fff"/><path d="M1086.5,1102.7 L1105.3,1094 L1104,1092.1 Z" fill="#c9ccd6"/>
<path d="M1101.6,1084.5 L1050.4,1108.1" stroke="#fff" stroke-width="1.4" fill="none"/><path d="M1031.8,1116.7 L1049.1,1105.3 L1051.7,1110.9 Z" fill="#fff"/><path d="M1031.8,1116.7 L1051.7,1110.9 L1050.7,1108.8 Z" fill="#c9ccd6"/>
<path d="M1188.5,1068.4 L1141.8,1095.7" stroke="#fff" stroke-width="1.4" fill="none"/><path d="M1124.1,1106 L1140.2,1093 L1143.4,1098.3 Z" fill="#fff"/><path d="M1124.1,1106 L1143.4,1098.3 L1142.2,1096.3 Z" fill="#c9ccd6"/>
<path d="M1194.9,1075.9 L1147.6,1100.8" stroke="#fff" stroke-width="1.4" fill="none"/><path d="M1129.5,1110.3 L1146.2,1098 L1149.1,1103.5 Z" fill="#fff"/><path d="M1129.5,1110.3 L1149.1,1103.5 L1148,1101.4 Z" fill="#c9ccd6"/>
<path d="M1169.1,1075.9 L1123.8,1101.3" stroke="#fff" stroke-width="1.4" fill="none"/><path d="M1105.9,1111.3 L1122.3,1098.6 L1125.3,1104 Z" fill="#fff"/><path d="M1105.9,1111.3 L1125.3,1104 L1124.2,1102 Z" fill="#c9ccd6"/>
<path d="M1185,1100.3 L1134.6,1116.4" stroke="#fff" stroke-width="1.4" fill="none"/><path d="M1115.1,1122.7 L1133.7,1113.5 L1135.6,1119.4 Z" fill="#fff"/><path d="M1115.1,1122.7 L1135.6,1119.4 L1134.9,1117.2 Z" fill="#c9ccd6"/>
<path d="M1217.4,1100.6 L1164.2,1116.3" stroke="#fff" stroke-width="1.4" fill="none"/><path d="M1144.5,1122.1 L1163.3,1113.3 L1165,1119.3 Z" fill="#fff"/><path d="M1144.5,1122.1 L1165,1119.3 L1164.4,1117 Z" fill="#c9ccd6"/>
<path d="M1161.6,1116.7 L1107.7,1126.8" stroke="#fff" stroke-width="1.4" fill="none"/><path d="M1087.6,1130.6 L1107.2,1123.8 L1108.3,1129.9 Z" fill="#fff"/><path d="M1087.6,1130.6 L1108.3,1129.9 L1107.9,1127.6 Z" fill="#c9ccd6"/>
<path d="M1108,1131.7 L1050.2,1135.7" stroke="#fff" stroke-width="1.4" fill="none"/><path d="M1029.7,1137.1 L1049.9,1132.6 L1050.4,1138.8 Z" fill="#fff"/><path d="M1029.7,1137.1 L1050.4,1138.8 L1050.2,1136.5 Z" fill="#c9ccd6"/>
<path d="M1264.6,924.7 L1256.8,980.5" stroke="#fff" stroke-width="1.4" fill="none"/><path d="M1253.9,1000.8 L1253.7,980.1 L1259.8,980.9 Z" fill="#fff"/><path d="M1253.9,1000.8 L1259.8,980.9 L1257.5,980.6 Z" fill="#c9ccd6"/>
<path d="M1278.2,956.9 L1260.6,1008.6" stroke="#fff" stroke-width="1.4" fill="none"/><path d="M1254,1028 L1257.7,1007.6 L1263.5,1009.6 Z" fill="#fff"/><path d="M1254,1028 L1263.5,1009.6 L1261.3,1008.8 Z" fill="#c9ccd6"/>
<path d="M1038.3,1108.1 L986.5,1120.7" stroke="#fff" stroke-width="1.4" fill="none"/><path d="M966.6,1125.5 L985.8,1117.7 L987.3,1123.7 Z" fill="#fff"/><path d="M966.6,1125.5 L987.3,1123.7 L986.7,1121.4 Z" fill="#c9ccd6"/>
<path d="M1014.1,1092.6 L952.5,1113" stroke="#fff" stroke-width="1.4" fill="none"/><path d="M933,1119.5 L951.5,1110.1 L953.4,1116 Z" fill="#fff"/><path d="M933,1119.5 L953.4,1116 L952.7,1113.8 Z" fill="#c9ccd6"/>
<path d="M1019.7,1124.1 L966.1,1129.6" stroke="#fff" stroke-width="1.4" fill="none"/><path d="M945.7,1131.7 L965.8,1126.5 L966.4,1132.7 Z" fill="#fff"/><path d="M945.7,1131.7 L966.4,1132.7 L966.2,1130.4 Z" fill="#c9ccd6"/>
<path d="M1416.7,909.7 L1414.3,965.3" stroke="#fff" stroke-width="1.4" fill="none"/><path d="M1413.4,985.8 L1411.2,965.2 L1417.4,965.5 Z" fill="#fff"/><path d="M1413.4,985.8 L1417.4,965.5 L1415.1,965.4 Z" fill="#c9ccd6"/>
<path d="M1344.8,1021.2 L1305.4,1061.4" stroke="#fff" stroke-width="1.4" fill="none"/><path d="M1291.1,1076 L1303.2,1059.2 L1307.7,1063.5 Z" fill="#fff"/><path d="M1291.1,1076 L1307.7,1063.5 L1306,1061.9 Z" fill="#c9ccd6"/>
<path d="M1361.9,1028.8 L1321.3,1065.5" stroke="#fff" stroke-width="1.4" fill="none"/><path d="M1306.1,1079.2 L1319.2,1063.2 L1323.4,1067.8 Z" fill="#fff"/><path d="M1306.1,1079.2 L1323.4,1067.8 L1321.8,1066 Z" fill="#c9ccd6"/>
<path d="M1393,1044.8 L1346.5,1077.1" stroke="#fff" stroke-width="1.4" fill="none"/><path d="M1329.7,1088.8 L1344.8,1074.6 L1348.3,1079.6 Z" fill="#fff"/><path d="M1329.7,1088.8 L1348.3,1079.6 L1347,1077.7 Z" fill="#c9ccd6"/>
<path d="M1460.6,1012.7 L1417.5,1047.9" stroke="#fff" stroke-width="1.4" fill="none"/><path d="M1401.6,1060.9 L1415.5,1045.5 L1419.4,1050.3 Z" fill="#fff"/><path d="M1401.6,1060.9 L1419.4,1050.3 L1418,1048.5 Z" fill="#c9ccd6"/>
<path d="M1457.4,1044.8 L1407.8,1071.6" stroke="#fff" stroke-width="1.4" fill="none"/><path d="M1389.8,1081.3 L1406.4,1068.8 L1409.3,1074.3 Z" fill="#fff"/><path d="M1389.8,1081.3 L1409.3,1074.3 L1408.2,1072.2 Z" fill="#c9ccd6"/>
<path d="M1360.9,1069.5 L1312.6,1093.6" stroke="#fff" stroke-width="1.4" fill="none"/><path d="M1294.3,1102.8 L1311.2,1090.9 L1314,1096.4 Z" fill="#fff"/><path d="M1294.3,1102.8 L1314,1096.4 L1313,1094.3 Z" fill="#c9ccd6"/>
<path d="M1361.9,1108.2 L1306.8,1120.3" stroke="#fff" stroke-width="1.4" fill="none"/><path d="M1286.8,1124.7 L1306.2,1117.3 L1307.5,1123.3 Z" fill="#fff"/><path d="M1286.8,1124.7 L1307.5,1123.3 L1307,1121.1 Z" fill="#c9ccd6"/>
<path d="M1359.8,1124.2 L1304,1130.1" stroke="#fff" stroke-width="1.4" fill="none"/><path d="M1283.6,1132.2 L1303.7,1127 L1304.3,1133.1 Z" fill="#fff"/><path d="M1283.6,1132.2 L1304.3,1133.1 L1304.1,1130.8 Z" fill="#c9ccd6"/>
<path d="M1528.2,1092.5 L1471.3,1099.6" stroke="#fff" stroke-width="1.4" fill="none"/><path d="M1451,1102.1 L1471,1096.5 L1471.7,1102.6 Z" fill="#fff"/><path d="M1451,1102.1 L1471.7,1102.6 L1471.4,1100.3 Z" fill="#c9ccd6"/>
<path d="M1557.2,1132.2 L1500.5,1132.2" stroke="#fff" stroke-width="1.4" fill="none"/><path d="M1480,1132.2 L1500.5,1129.1 L1500.5,1135.3 Z" fill="#fff"/><path d="M1480,1132.2 L1500.5,1135.3 L1500.5,1133 Z" fill="#c9ccd6"/>
<path d="M1557.2,1004.5 L1502,1018.1" stroke="#fff" stroke-width="1.4" fill="none"/><path d="M1482.1,1023 L1501.3,1015.1 L1502.7,1021.1 Z" fill="#fff"/><path d="M1482.1,1023 L1502.7,1021.1 L1502.2,1018.8 Z" fill="#c9ccd6"/>
<path d="M1575,982.6 L1530.3,989.3" stroke="#fff" stroke-width="1.4" fill="none"/><path d="M1510,992.3 L1529.8,986.2 L1530.7,992.3 Z" fill="#fff"/><path d="M1510,992.3 L1530.7,992.3 L1530.4,990 Z" fill="#c9ccd6"/>
<path d="M1575,944 L1532.7,957.7" stroke="#fff" stroke-width="1.4" fill="none"/><path d="M1513.2,964 L1531.7,954.7 L1533.7,960.6 Z" fill="#fff"/><path d="M1513.2,964 L1533.7,960.6 L1532.9,958.4 Z" fill="#c9ccd6"/>
<path d="M766.1,1031.9 L804.7,1028.7" stroke="#fff" stroke-width="1.4" fill="none"/>
<path d="M833.7,1132.1 L850.9,1132.1" stroke="#fff" stroke-width="1.4" fill="none"/>
<path d="M795,1132.1 L799,1132.1" stroke="#fff" stroke-width="1.4" fill="none"/>
<path d="M1005,1044.8 L990,1056.6" stroke="#fff" stroke-width="1.4" fill="none"/>
<path d="M750,1033.4 L749.4,1033.5" stroke="#fff" stroke-width="1.15" fill="none"/><path d="M738.9,1035.6 L749,1031.5 L749.9,1035.6 Z" fill="#fff"/><path d="M738.9,1035.6 L749.9,1035.6 L749.5,1034 Z" fill="#c9ccd6"/>
<path d="M781.1,1064.1 L780.6,1064.2" stroke="#fff" stroke-width="1.15" fill="none"/><path d="M771.5,1066.9 L780,1062.2 L781.2,1066.3 Z" fill="#fff"/><path d="M771.5,1066.9 L781.2,1066.3 L780.8,1064.7 Z" fill="#c9ccd6"/>
<path d="M776.9,1077 L776.5,1077.1" stroke="#fff" stroke-width="1.15" fill="none"/><path d="M769.3,1078.5 L776.1,1075 L776.9,1079.1 Z" fill="#fff"/><path d="M769.3,1078.5 L776.9,1079.1 L776.6,1077.6 Z" fill="#c9ccd6"/>
</g>
<path d="M790.8,807.9 V820.2" stroke="#0a0a0a" stroke-width="3.7" stroke-linecap="round"/>
<circle cx="790.8" cy="841.2" r="1.35" fill="#0a0a0a"/>
<path d="M790.8,863.5 V875.9" stroke="#0a0a0a" stroke-width="3.7" stroke-linecap="round"/>
<circle cx="790.8" cy="896.9" r="1.35" fill="#0a0a0a"/>
<path d="M790.8,919.2 V931.5" stroke="#0a0a0a" stroke-width="3.7" stroke-linecap="round"/>
<circle cx="790.8" cy="952.5" r="1.35" fill="#0a0a0a"/>
<path d="M790.8,974.8 V987.1" stroke="#0a0a0a" stroke-width="3.7" stroke-linecap="round"/>
<circle cx="790.8" cy="1008.1" r="1.35" fill="#0a0a0a"/>
<path d="M790.8,1030.5 V1042.8" stroke="#0a0a0a" stroke-width="3.7" stroke-linecap="round"/>
<circle cx="790.8" cy="1063.8" r="1.35" fill="#0a0a0a"/>
<path d="M790.8,1086.2 V1098.5" stroke="#0a0a0a" stroke-width="3.7" stroke-linecap="round"/>
<circle cx="790.8" cy="1119.5" r="1.35" fill="#0a0a0a"/>
<path d="M790.8,1141.8 V1154.1" stroke="#0a0a0a" stroke-width="3.7" stroke-linecap="round"/>
<text x="11.2" y="957.4" font-size="57.5">(b)</text>
<text x="1494.2" y="953.8" font-size="57.5" style="fill:#fff">(d)</text>
</svg>
</body></html>
